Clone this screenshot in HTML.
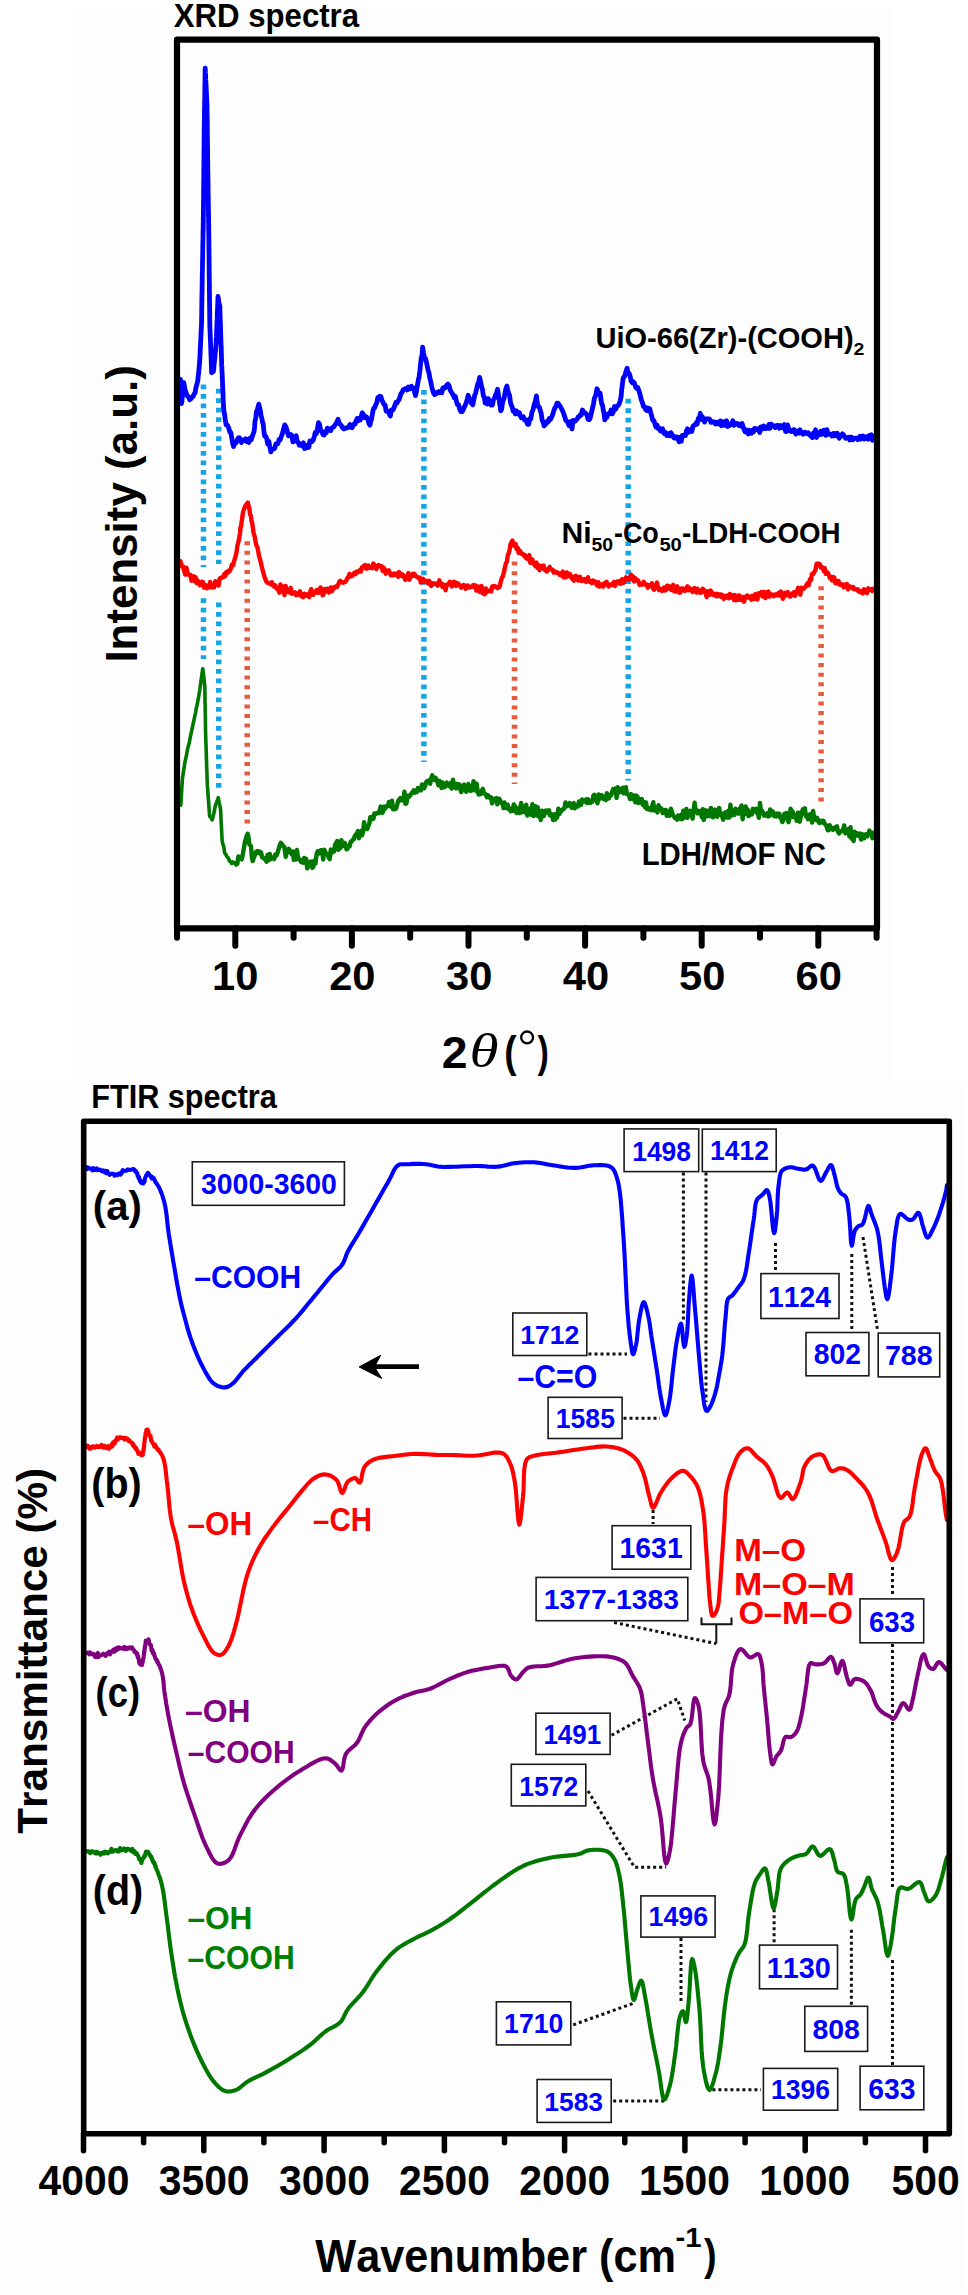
<!DOCTYPE html><html><head><meta charset="utf-8"><style>html,body{margin:0;padding:0;background:#fff;}svg{display:block;}text{font-family:"Liberation Sans", sans-serif;font-kerning:none;font-variant-ligatures:none;}</style></head><body>
<svg width="968" height="2295" viewBox="0 0 968 2295">
<rect x="0" y="0" width="968" height="2295" fill="#fff"/>
<rect x="73" y="9" width="819.5" height="1075" fill="#fdfdfd"/>
<rect x="2" y="1083.5" width="963" height="1209.5" fill="#fdfdfd"/>
<line x1="203.5" y1="384.5" x2="203.5" y2="567.3" stroke="#14a5e2" stroke-width="5.5" stroke-dasharray="4.8 4.7"/>
<line x1="203.5" y1="598.3" x2="203.5" y2="659" stroke="#14a5e2" stroke-width="5.5" stroke-dasharray="4.8 4.7"/>
<line x1="218.7" y1="388.7" x2="218.7" y2="564" stroke="#14a5e2" stroke-width="5.5" stroke-dasharray="4.8 4.7"/>
<line x1="218.7" y1="602.4" x2="218.7" y2="788" stroke="#14a5e2" stroke-width="5.5" stroke-dasharray="4.8 4.7"/>
<line x1="423.9" y1="390" x2="423.9" y2="762" stroke="#14a5e2" stroke-width="5.5" stroke-dasharray="4.8 4.7"/>
<line x1="628.2" y1="398.7" x2="628.2" y2="780.5" stroke="#14a5e2" stroke-width="5.5" stroke-dasharray="4.8 4.7"/>
<line x1="247.2" y1="541.2" x2="247.2" y2="827" stroke="#e85a3c" stroke-width="5.5" stroke-dasharray="4 5.6"/>
<line x1="514.5" y1="561.6" x2="514.5" y2="784" stroke="#e85a3c" stroke-width="5.5" stroke-dasharray="4 5.6"/>
<line x1="821.1" y1="586.3" x2="821.1" y2="805.5" stroke="#e85a3c" stroke-width="5.5" stroke-dasharray="4 5.6"/>
<path d="M180.5 379.3L180.6 383L180.8 386.1L180.9 389.5L181.1 392.6L181.2 396.3L181.4 400.3L181.5 403.6L182 400.5L182.4 396.1L182.9 392.6L183.3 388.7L183.8 382.7L185 389.5L186.1 392.5L187.3 396L188.4 396.6L189.6 399.7L190.7 399L191.8 397.6L192.9 396.7L194 394.2L195.1 392.8L196 387.2L197 384L197.9 379.7L198.3 375.2L198.6 373.5L199 368.9L199.3 365.7L199.7 360.8L199.9 357.1L200.1 353.6L200.2 350.1L200.4 346.8L200.6 342.9L200.8 338.9L201 335L201.1 331.5L201.3 328.8L201.5 324.3L201.6 321.1L201.6 317.7L201.7 313.9L201.7 310.8L201.8 307.6L201.8 303.5L201.9 300.4L201.9 297L202 293.4L202.1 290.3L202.1 286.7L202.2 283L202.2 280.1L202.3 276.6L202.3 273.2L202.4 269.9L202.5 266.3L202.5 262.8L202.6 259L202.7 256L202.7 252.3L202.8 248.9L202.8 245.3L202.9 241.9L203 238.6L203 235.6L203.1 231.4L203.2 228.1L203.2 225.1L203.3 221.9L203.3 218.3L203.4 214.4L203.4 211L203.5 208L203.5 204.4L203.5 201L203.6 197.9L203.6 194.5L203.6 191L203.7 187.6L203.7 184.3L203.7 181L203.8 177.5L203.8 174.1L203.8 170.7L203.9 167L203.9 164L203.9 160.6L204 157.2L204 153.4L204 150.2L204.1 147L204.1 143.3L204.1 140.1L204.2 136.9L204.2 133.2L204.2 130.2L204.3 126.7L204.3 123.2L204.4 119.8L204.4 116.5L204.5 112.9L204.5 109.7L204.6 105.9L204.6 102.5L204.7 99.4L204.8 95.8L204.8 92.1L204.9 89.1L204.9 85.8L205 81.9L205 78.3L205.1 75.1L205.1 71.7L205.2 68.1L205.4 72.7L205.6 75.1L205.7 79.9L205.9 82.3L206.1 86.2L206.3 90.6L206.5 94.5L206.6 98L206.8 101.4L207 104.9L207 108.4L207.1 112L207.1 115.3L207.2 118.9L207.2 122.4L207.3 125.8L207.3 129.4L207.3 132.9L207.4 136.6L207.4 139.8L207.5 143.2L207.5 146.7L207.6 150.2L207.6 153.9L207.6 157.1L207.7 160.7L207.7 164.5L207.8 167.2L207.8 170.9L207.9 174.7L207.9 178.2L208 181.6L208 184.9L208.1 188.5L208.1 191.9L208.2 195.1L208.2 199.2L208.3 202.2L208.4 205.4L208.4 209L208.5 212.4L208.5 215.8L208.6 218.7L208.6 222.6L208.7 226.4L208.7 229.3L208.8 233L208.8 236.5L208.9 239.9L208.9 243.4L208.9 246.3L209 249.9L209 253.3L209.1 256.8L209.1 260.3L209.1 263.1L209.2 267.1L209.2 270.1L209.2 273.8L209.3 276.8L209.3 280.5L209.4 284L209.4 287.2L209.4 290.6L209.5 294.1L209.5 297.4L209.5 300.8L209.6 304.4L209.6 307.7L209.7 310.9L209.7 314.7L209.7 317.5L209.8 321.2L209.8 324.4L209.9 328.1L210.1 331.9L210.2 335.2L210.4 338.9L210.5 341.4L210.6 345L210.8 349.4L210.9 352.3L211 355.8L211.2 359.1L211.3 363.8L211.5 367.1L211.6 372.7L213.4 371.4L213.8 368.4L214.1 363.9L214.4 361.7L214.8 358.7L215.2 353.1L215.5 351.4L215.8 347.3L216.2 342.7L216.3 338.4L216.5 336.4L216.6 332.2L216.8 328.5L216.9 325.4L217 321.9L217.2 318.9L217.3 314.2L217.4 311.7L217.6 308.3L217.7 304.8L217.9 300.5L218 296.3L218.9 302.8L219.8 306.2L219.9 309.7L220 313.6L220.1 316.4L220.2 319L220.4 323.2L220.5 326.1L220.6 330.5L220.7 333.8L220.8 336.8L220.9 340.5L221 344.3L221.2 347.4L221.3 351.3L221.4 354.2L221.5 358.1L221.6 361.8L221.7 365.4L221.9 367.8L222 372.1L222.2 374.3L222.3 378.2L222.5 381.3L222.6 386.3L222.8 388.7L222.9 392.8L223.1 396.2L223.2 399.8L223.4 403.1L223.5 407.1L224 412.3L224.6 414.3L225.1 418.4L225.7 422.5L226.2 424.9L227.4 425.1L228.7 428L229.9 432L230.8 432.4L231.7 437.3L232.6 442.9L233.5 446.5L234.7 443.5L236 442.9L237.2 440.1L238.2 438L239.3 437.6L240.3 439.5L241.4 442.5L242.4 440.2L243.5 439.9L244.5 440.3L245.6 438.9L246.7 441.5L247.8 439.6L248.9 442.4L250 438.3L251.2 439.7L252.5 435.8L253.7 432.5L254.1 431.3L254.6 426.7L255 421.3L255.5 418.9L255.9 416.3L256.4 411.8L257.6 408.8L258.8 404.1L259.6 407.6L260.4 410.9L261.1 415.8L261.9 418.6L262.6 422.5L263.2 423.9L263.9 431.1L264.6 436.2L265.6 436.2L266.7 438.3L267.7 444.1L268.8 441.2L269.8 446.7L270.9 451.9L271.9 449.4L273.3 449.1L274.7 448.3L275.8 444L276.9 444L278 443.5L279.1 439.4L280.2 439.7L281.3 436.5L282.4 433.6L283.6 428.8L284.7 424.9L285.9 426.8L287.2 430.8L288.4 435.8L289.5 435.3L290.6 434.5L291.7 435.3L292.9 441.9L294 440.2L295.1 440.2L296.2 435.7L297.2 441.8L298.3 442.4L299.3 445.3L300.3 444.1L301.4 444.1L302.4 446L303.4 442.8L304.5 448.5L305.5 448.2L306.6 445.5L307.7 447.6L308.8 447.3L309.9 441L311 441.1L312.1 441.5L313.2 440.1L314.3 436.3L315.3 432.4L316.4 433.5L317.4 429L318.5 422.7L319.6 424.3L320.7 430.7L321.9 431.5L323 434.6L324.1 435.1L325.2 431.6L326.3 432.8L327.4 428.1L328.5 429.8L329.6 430.3L330.7 430.6L331.8 428L332.8 427.4L333.9 426.7L334.9 425L335.9 423.9L337 421.7L338 419.3L339.2 423.3L340.4 424.5L341.5 425.6L342.7 428L343.7 428.8L344.8 428.2L345.8 428.3L346.8 427.7L347.9 427.7L348.9 426.8L349.9 424.5L351 427.1L352 427.7L353 425.8L354.1 423.9L355.1 424L356.1 420.8L357.2 418.4L358.2 420.7L359.2 418.2L360.3 420L361.3 416.1L362.3 412.7L363.4 414.4L364.4 417.6L365.5 416.5L366.6 416.9L367.8 419.6L368.9 423.4L370 425.1L370.7 421.3L371.5 419.4L372.2 415.1L373 410.8L373.7 408.3L374.7 407.7L375.8 404.7L376.8 402.7L377.8 397.6L378.9 396.9L379.9 396.1L380.9 396.6L382 400.7L383 402.1L384 404.6L385.1 405L386.1 411.1L387.1 411.3L388.2 411.2L389.2 413.7L390.3 416.1L391.4 410L392.5 410.3L393.6 408.9L394.7 405.9L395.8 402.5L396.9 403.1L397.9 401L399 399.7L400 396.9L401 393.5L402.1 392.3L403.1 389.8L404.1 389.2L405.2 388.9L406.2 388.4L407.2 390L408.3 386.9L409.3 387.7L410.3 388.8L411.4 386.2L412.4 388.2L413.4 388L414.5 391.9L415.5 395.6L416.3 391.8L417.1 387.2L417.8 383.2L418.6 378.3L419 378L419.5 373.4L419.9 370.6L420.4 365.4L420.8 362.7L421.3 357.8L421.7 356.9L422.2 353.7L422.6 347.2L423.6 353.1L424.5 357.6L425.4 358.3L426.4 361.9L427.3 366.3L428.1 370.4L429 373L429.9 378.3L430.8 382L431.6 386L432.5 389.8L433.5 393L434.6 394.6L435.6 392.8L436.6 393.6L437.7 392.2L438.7 391.6L439.7 392.8L440.8 392.4L441.8 392.7L442.8 388.1L443.9 387.4L444.9 388L445.9 386.5L447 385L448 384.1L449 385.4L450.1 389.8L451.1 391.7L452.1 393.3L453.2 394.8L454.2 397.8L455.3 396.4L456.4 401.1L457.5 404.8L458.7 404.8L459.8 409.5L460.9 411.6L462 411.7L463 410.4L464.1 407.5L465.1 405.7L466.1 403.1L467.2 399.4L468.2 395.3L469.4 398.3L470.5 400.4L471.6 403.5L472.8 404.7L473.8 399.7L474.8 395.1L475.8 392.6L476.7 388.4L477.7 384.1L478.7 381.6L479.7 377.4L480.6 382L481.5 386.4L482.4 389.1L483.4 396.2L484.3 396.9L485.2 403.1L486.2 401.9L487.3 404.1L488.3 398.7L489.3 402L490.4 404.2L491.4 405.1L492.4 405L493.5 399.6L494.5 398.3L495.5 395L496.6 392.7L497.6 389.3L498.1 392.3L498.6 396.5L499.1 398.6L499.7 404.4L500.2 405.9L500.7 410.8L501.6 409.5L502.5 403.1L503.4 399.9L504.2 397.7L505.1 392.8L506 388.3L506.9 386L507.8 390L508.7 393.6L509.6 395.4L510.4 402L511.3 405.4L512.2 407L513.1 411L514.1 410.3L515.2 413.9L516.2 410.9L517.2 413.7L518.3 412.3L519.3 412.5L520.3 415.8L521.4 417.8L522.4 416.7L523.4 416.6L524.5 420.1L525.5 419.7L526.5 421.3L527.6 424.3L528.6 424.4L529.7 418.7L530.8 418.8L531.9 412.3L533.1 409.8L534.2 404.3L535.3 401.6L536.4 395.9L537.4 403.8L538.3 406.8L539.3 407L540.2 410.2L541.2 413.5L542.2 420.5L543.1 421.9L544.1 425.9L545.1 424.5L546.2 423.7L547.2 421.2L548.2 421.9L549.3 418.5L550.3 419.7L551.4 417.6L552.5 415.1L553.6 411.5L554.8 407.9L555.9 406.7L557 403.2L558.1 403.4L559.2 404.9L560.3 406.4L561.4 408.5L562.5 410.8L563.6 413.2L564.7 416.7L565.8 420.3L566.8 421.4L567.9 422.3L568.9 425.6L569.9 421.8L571 423.7L572 428.9L573 420.3L574.1 421.3L575.1 421.1L576.1 419.9L577.2 419.1L578.2 416.9L579.2 416.6L580.3 414.9L581.3 414.9L582.4 410L583.5 411.5L584.6 412.8L585.8 413.2L587 415.1L588.1 419.5L589.3 419.7L590.2 417.8L591 414.5L591.9 410.6L592.7 407.4L593.6 403.2L594.4 398.2L595.3 396.4L596.1 393.6L597 388.8L598 391L599.1 393.8L600.1 393.2L600.9 398.8L601.7 404L602.5 405.2L603.2 409.8L604 413.4L604.8 419.9L605.8 417.2L606.9 417.4L607.9 414L608.9 414.3L610 413.6L611 410L612.1 413.9L613.3 411.9L614.5 406.5L615.6 409.3L616.8 406.3L618 405.7L619.1 404L620.3 400.5L620.7 398.2L621.2 396.2L621.6 390.8L622.1 386.8L622.5 383L623 379.6L623.4 377.7L624.6 376.4L625.9 371.6L627.1 368.2L628.1 373.9L629.1 373.4L630.1 376.3L631.1 381.1L632.2 382.7L633.3 381.8L634.4 383.1L635.6 386.9L636.7 388.4L637.8 387.5L638.9 390.8L640 394.3L641.2 399.4L642.4 402.6L643.5 406.5L644.5 406.5L645.6 409.4L646.6 410.5L647.6 408L648.7 410.6L649.7 408.7L650.7 412.6L651.8 416.4L652.8 420.3L653.8 420.5L654.9 423.8L655.9 427L657 425.1L658.1 428.5L659.2 428.2L660.4 430.9L661.5 429.3L662.6 428.8L663.7 433L664.7 433.7L665.8 432.6L666.8 435.5L667.8 433.8L668.9 433.6L669.9 435.8L670.9 432.6L672 434.5L673 436L674 438L675.1 436.8L676.1 438.1L677.1 437L678.2 439.1L679.2 441.8L680.2 437.1L681.3 441.3L682.3 435.5L683.3 435.7L684.4 435.1L685.4 435.6L686.4 431.1L687.5 428.8L688.5 432.4L689.6 431.3L690.7 429.7L691.8 431.5L692.9 426.4L694 425.2L695.1 424.9L696.2 422.7L697.2 424.1L698.3 418.5L699.3 419.1L700.3 413.3L701.4 419.5L702.4 416.8L703.5 419.5L704.6 422L705.6 418.8L706.7 418.8L707.8 418.9L708.9 418.8L710 419.6L711 422.3L712.1 421.7L713.2 422.2L714.2 421.9L715.3 424L716.3 423.4L717.3 422.3L718.4 423.9L719.4 422.6L720.4 420.9L721.5 425.7L722.5 424.1L723.5 421.7L724.6 425.4L725.6 424.2L726.6 420.8L727.7 426.5L728.7 424.2L729.7 425.2L730.8 424L731.8 423.3L732.8 420.8L733.9 425.3L734.9 423.7L735.9 423.1L737 424.2L738 423.7L739 425.6L740.1 424.7L741.1 426.1L742.1 423.6L743.2 427.2L744.2 429.9L745.2 431.9L746.3 429.9L747.3 431.2L748.3 433.9L749.4 430.3L750.4 431.9L751.4 433.3L752.5 430.2L753.5 432L754.5 428.4L755.6 429.7L756.6 428.9L757.6 429L758.7 430.5L759.7 432.5L760.7 427L761.8 427L762.8 428.8L763.8 425.9L764.9 428.5L765.9 428.5L766.9 426.9L768 428.2L769 424.4L770 428.3L771.1 424.1L772.1 425.5L773.1 425.6L774.2 425.7L775.2 427.7L776.2 426.2L777.3 425.2L778.3 426.7L779.3 428.3L780.4 425.4L781.4 425.8L782.4 427.8L783.5 426.7L784.5 424.6L785.5 431.5L786.6 431.5L787.6 424.9L788.6 428.7L789.7 430L790.7 431.5L791.7 431.5L792.8 430.4L793.8 429.6L794.8 432L795.9 434.1L796.9 431L797.9 431.2L799 433.1L800 429.8L801 432.9L802.1 432.7L803.1 434.3L804.1 432.4L805.2 432.2L806.2 433.2L807.2 433.9L808.3 432.9L809.3 434.2L810.3 435.6L811.4 436.5L812.4 437.5L813.4 433L814.5 433.5L815.5 429.8L816.5 437.5L817.6 432.7L818.6 433.8L819.6 434.7L820.7 431.2L821.7 434.4L822.7 433.4L823.8 430.1L824.8 433.7L825.8 435.2L826.9 429.7L827.9 434.3L828.9 433.5L830 434.1L831 434.3L832 436L833.1 433.5L834.1 435.7L835.1 433.6L836.2 435.8L837.2 433.3L838.2 434.8L839.3 438.2L840.3 436.2L841.3 435.3L842.4 433.8L843.4 434.6L844.4 436.6L845.5 438.2L846.5 437.5L847.5 437.9L848.6 437.2L849.6 439.9L850.6 437.1L851.7 437.1L852.7 439.9L853.7 438.7L854.8 438.4L855.8 438.1L856.8 438.5L857.9 439.8L858.9 439.2L860 436.2L861 438.9L862 438.3L863.1 436.1L864.1 439L865.2 437L866.2 436.7L867.3 438.5L868.3 439.2L869.3 435.5L870.4 437.3L871.4 434.8L872.5 440.3L873.5 436" fill="none" stroke="#0000ff" stroke-width="4.8" stroke-linejoin="round" stroke-linecap="round" />
<path d="M180.5 561.3L181.8 566.5L183 566.2L184.3 571.2L185.3 574.6L186.4 567.6L187.4 572.2L188.4 574.8L189.5 574.8L190.5 574.9L191.5 580.7L192.6 578.2L193.6 576.2L194.6 581.3L195.7 577.3L196.7 583.1L197.7 580.6L198.8 582.6L199.8 585.2L200.8 583.8L201.9 581.8L202.9 581.9L203.9 587.6L205 587.5L206 585.3L207 588.2L208.1 587.4L209.1 587.5L210.1 581.9L211.2 585.4L212.2 587.5L213.2 587L214.3 587.1L215.3 581.2L216.4 584.3L217.5 583.5L218.6 585.5L219.7 578.4L220.8 578.1L221.9 577.4L223 577.5L224.1 574.3L225.2 576.2L226.3 572L227.5 572.9L228.6 570.7L229.7 571L230.8 568.8L232 564.4L233.1 565.2L234.2 560.9L235.4 556.8L236.1 554.1L236.7 551.5L237.4 545.6L238.1 543.1L238.8 540.3L239.4 536.8L240.1 532.3L240.6 526.8L241.1 526.7L241.6 522.1L242.2 518.2L242.7 514.3L243.2 511.4L244.3 508.4L245.5 505.5L246.7 504L247.8 502.5L248.6 505.9L249.4 508.8L250.1 514.5L250.9 515.7L251.6 521.5L252.2 523.1L252.9 528.2L253.6 532.9L254.3 535.1L254.9 537.5L255.6 542L256.5 545.8L257.4 547.1L258.4 552.3L259.3 557L260.2 559.9L261.2 564.2L262.3 568.7L263.3 572.4L264.3 576.2L265.4 579.4L266.4 581.7L267.5 582.8L268.6 583L269.7 583.5L270.8 584.4L271.9 582.2L272.9 585.3L274 586.5L275.1 585.4L276.2 587.7L277.3 589.4L278.3 588.4L279.4 592.7L280.4 584.4L281.4 589.1L282.5 586.3L283.5 591.8L284.5 595.1L285.6 585.9L286.6 591L287.6 591.9L288.7 590.7L289.7 592.5L290.7 587.8L291.8 593.8L292.8 593.3L293.8 593.1L294.9 592.3L295.9 595L296.9 593.3L298 595L299 594L300 591.2L301.1 595.7L302.1 596.5L303.1 597.1L304.2 593.7L305.2 594.9L306.2 595.7L307.2 594.4L308.2 596.1L309.3 597L310.3 591.4L311.3 589.2L312.3 593.8L313.4 594.7L314.4 593.2L315.4 592.9L316.5 590.1L317.5 589.9L318.5 592.8L319.6 589.3L320.6 587.5L321.6 588.9L322.7 595.4L323.7 594.2L324.7 589.2L325.8 589L326.8 590.7L327.8 588.8L328.9 592.6L329.9 589.9L330.9 587.5L332 591.3L333 587.4L334 588.3L335.1 587.4L336.1 586.3L337.1 586.9L338.2 584.6L339.2 582L340.2 580.8L341.3 582L342.3 582.4L343.3 582.8L344.4 582L345.4 582L346.4 580.3L347.5 577.8L348.5 577.1L349.5 573.8L350.6 576.2L351.6 576.4L352.6 575.6L353.7 573.6L354.7 572.6L355.7 573.9L356.8 571.6L357.8 572.3L358.8 571.4L359.9 570.1L360.9 571.4L361.9 567.4L363 567.1L364 565.7L365 565.1L366.1 568.6L367.1 568.5L368.1 565.4L369.2 566.5L370.2 567.8L371.2 567.2L372.3 568.1L373.3 563.6L374.3 564.9L375.4 567L376.4 569L377.4 566.6L378.5 565L379.5 566.1L380.5 566L381.6 566.2L382.6 570.9L383.6 567.6L384.7 569.3L385.7 573.7L386.7 572.4L387.8 571.4L388.8 570.3L389.8 572.6L390.9 575.3L391.9 574L392.9 575.5L394 573.6L395 574.6L396 573.6L397.1 575L398.1 576.8L399.1 572.1L400.2 574.9L401.2 575.7L402.2 574.4L403.3 575.2L404.3 577.5L405.3 579.8L406.4 577.2L407.4 576.6L408.4 573.1L409.5 579.7L410.5 576.1L411.5 575.9L412.6 573.9L413.6 575.9L414.6 573.9L415.7 576.1L416.7 576.8L417.7 577.1L418.8 578.5L419.8 577.7L420.8 582.6L421.9 580.1L422.9 578.8L423.9 582L425 581L426 580.7L427 582L428.1 583.4L429.1 580.7L430.1 582.8L431.2 585.9L432.2 584.6L433.2 583.2L434.3 583.8L435.3 583.5L436.3 583.9L437.4 585.6L438.4 584.3L439.4 580.3L440.5 585L441.5 583.6L442.5 586.7L443.6 584.6L444.6 586.3L445.6 590.3L446.7 584.6L447.7 584.7L448.7 583.9L449.8 581.9L450.8 582.6L451.8 586.4L452.9 584.3L453.9 581.8L454.9 582.3L456 585.9L457 583L458 583.5L459.1 584.6L460.1 586.2L461.2 587.6L462.3 586.3L463.4 585L464.5 585.4L465.6 588.7L466.7 588.3L467.8 585.5L468.9 587.2L470 587.2L471.1 587.1L472.1 586.3L473.2 585.1L474.2 586.8L475.3 585.2L476.3 590.6L477.4 589.6L478.4 586.6L479.5 591.7L480.6 591L481.6 586.1L482.7 593.3L483.7 591.7L484.8 594.3L485.8 588.5L486.9 592L488 591.4L489 590.7L490.1 590.2L491.1 591.5L492.2 586.5L493.2 586.6L494.3 585.9L495.4 587.1L496.4 586.7L497.5 588.1L498.5 587.5L499.6 586.7L500.7 581.9L501.7 578.4L502.8 576.4L503.9 572.2L504.9 567.5L506 563.1L506.9 561.7L507.8 555.2L508.7 553.1L509.6 550L510.5 544.4L511.4 542.4L512.4 540.6L513.5 545.5L514.5 545.5L515.6 544L516.6 549.1L517.7 547.9L518.7 553L519.8 550.5L520.8 552.3L521.9 554L522.9 553.9L524 555.8L525 555.3L526.1 558.3L527.2 558.1L528.2 559.3L529.3 555.1L530.3 562.8L531.4 561.7L532.4 559.5L533.5 563.7L534.5 564.7L535.5 566.2L536.5 562.7L537.5 567.9L538.5 565.2L539.6 570.2L540.6 566L541.6 567.9L542.6 566.4L543.6 565.5L544.6 569.9L545.6 569.9L546.6 571.5L547.6 570.7L548.6 568.5L549.7 566.9L550.7 569.1L551.7 569.5L552.7 569.6L553.7 572.6L554.7 572.5L555.7 571.7L556.7 572.8L557.7 572.5L558.7 573.5L559.7 574.8L560.8 575.5L561.8 572.8L562.8 571.6L563.8 577.3L564.8 575.2L565.8 577.3L566.8 572.5L567.8 575.3L568.8 576.2L569.8 573.8L570.9 575.8L571.9 578.4L572.9 579.4L573.9 580.6L574.9 576.4L575.9 575.7L576.9 579.5L577.9 580.4L578.9 579.3L579.9 576.7L580.9 580.8L582 581L583 580.7L584 579L585 580.7L586 581.8L587 579.5L588 577.3L589 581.5L590 582L591 581.3L592.1 583.2L593.1 580.6L594.1 581.7L595.1 581.5L596.1 583.4L597.1 585.5L598.2 582.2L599.2 586.6L600.3 585.8L601.3 584.5L602.4 584.3L603.4 586.6L604.5 583.1L605.5 583.3L606.6 581.7L607.7 584.7L608.7 586.5L609.8 585.1L610.8 585L611.9 584L612.9 584.8L614 582L615 586.1L616 583.1L617 581.5L618 581.8L619 581.2L620 583.9L621 583.9L622 579.2L623 582.9L624 582.5L625 579.5L626 577.4L627 578.4L628 578.3L629 579.7L630 578L631 574.7L632.1 579.2L633.1 576.6L634.2 581.5L635.2 578.2L636.3 579.7L637.3 579.9L638.4 581L639.5 584.8L640.5 584.6L641.6 584.6L642.6 584.6L643.7 581.8L644.7 584.2L645.8 584.7L646.8 584.4L647.9 587.7L648.9 585.4L649.9 585.6L650.9 585L651.9 583.2L652.9 588.3L654 589.8L655 587.7L656 585.7L657 582.5L658 588L659 590.1L660 588.5L661 589.7L662 590.9L663 590.3L664.1 587.5L665.1 590.4L666.1 590L667.1 585.7L668.1 587.9L669.1 586.1L670.1 588.6L671.1 589.9L672.1 586.8L673.2 584.9L674.2 591.3L675.2 589.5L676.2 591.6L677.2 586.3L678.2 590.8L679.3 592.7L680.3 592.6L681.3 588.4L682.3 589.3L683.3 588.5L684.3 590.7L685.4 590.8L686.4 589L687.4 586.2L688.4 590.2L689.4 587.9L690.4 590L691.5 589.3L692.5 591.9L693.5 591L694.5 588L695.5 589.7L696.5 592.6L697.5 588.7L698.5 590.8L699.5 592.5L700.6 592.9L701.6 591.9L702.6 588.8L703.6 589.2L704.6 592.3L705.6 592.9L706.6 597.1L707.6 591.2L708.6 595.2L709.6 594.8L710.7 590.6L711.7 592.5L712.7 594.6L713.7 593.7L714.7 594.6L715.7 596.1L716.7 593.8L717.7 596.2L718.7 594.3L719.8 594.5L720.8 596.6L721.8 594.6L722.8 596.3L723.8 598.9L724.8 596L725.9 595.8L726.9 597.5L727.9 595.5L728.9 598.3L729.9 594L730.9 597.6L732 595.6L733 595.1L734 600L735 595.2L736 600.2L737 598.2L738.1 599.8L739.1 595.3L740.1 599.5L741.1 600L742.1 597L743.1 596.9L744.1 601.7L745.2 597.3L746.2 596.1L747.2 595.6L748.2 597.6L749.2 597.2L750.2 596.9L751.3 599.7L752.3 595.8L753.3 597.2L754.3 599L755.3 594.2L756.3 598L757.4 599.4L758.4 593.3L759.4 593.7L760.4 593.8L761.4 592.1L762.4 596.4L763.5 592L764.5 596.3L765.5 598L766.5 592.1L767.5 594.6L768.5 591.6L769.5 596.7L770.6 593.8L771.6 594.7L772.6 595.3L773.6 596.2L774.6 594.5L775.6 595.2L776.7 594.2L777.7 595.4L778.7 593L779.7 595.3L780.7 591.5L781.7 594.3L782.8 598.8L783.8 595.4L784.8 592.8L785.8 595.7L786.8 593.4L787.8 592.1L788.9 593.8L789.9 596.6L790.9 595.9L791.9 595L793 592.9L794 592.1L795.1 595.8L796.1 593.2L797.2 590.5L798.2 587.8L799.3 588.5L800.4 594.7L801.4 587.7L802.5 589L803.5 588.9L804.6 587.6L805.6 586.8L806.7 584.6L807.8 583L808.8 585.2L809.9 579.4L811 579.9L812 573.9L813.1 574.1L814.3 571.9L815.5 570L816.6 563.9L817.8 563.5L818.8 564.6L819.8 564.2L820.8 567.6L821.8 566.8L822.8 568.4L823.8 571.1L824.8 568.2L825.8 573.8L826.9 572.9L827.9 572.8L829 575.4L830 578.2L831.1 576.8L832.1 580.5L833.2 576.9L834.3 577.4L835.3 583.1L836.4 581.8L837.4 583.5L838.5 581L839.6 584.5L840.6 584L841.7 585.2L842.7 584.6L843.8 587.3L844.9 584.5L845.9 584.4L847 584.1L848 589.3L849.1 586.4L850.1 586.4L851.2 587.1L852.3 588.3L853.3 587.2L854.4 589.3L855.4 589.1L856.5 589.6L857.5 589.2L858.6 591.4L859.7 590.8L860.7 592.2L861.8 592.8L862.8 593.4L863.9 589.2L865 591.7L866 590.7L867.1 593.1L868.2 588.3L869.2 589.4L870.3 589.7L871.4 589.1L872.4 591.1L873.5 588.8" fill="none" stroke="#ff0000" stroke-width="4.4" stroke-linejoin="round" stroke-linecap="round" />
<path d="M180.8 805.2L181 801.8L181.3 797.4L181.5 793.5L181.7 790.5L181.9 786.6L182.2 782.8L182.4 779L183 775L183.7 770.1L184.3 766.9L184.9 762.1L185.7 759L186.6 754.7L187.4 749.8L188.2 746.3L189.1 743.6L189.9 739.1L190.7 735.1L191.5 731.6L192.4 727.4L193.2 723.5L194 720L194.8 716.2L195.5 713.1L196.2 708.6L196.9 705.7L197.7 701.9L198.4 698.1L199.1 694L199.8 689.8L200.3 686.2L200.8 682.5L201.3 678.6L201.8 675.3L202.3 671.5L202.8 668.8L203.2 672L203.6 675.3L204 678.4L204.4 682.7L204.8 686.4L204.9 689.8L204.9 693.4L205 696.8L205 700.7L205.1 704.2L205.2 708L205.2 711.3L205.3 714.8L205.4 718.5L205.4 722L205.5 725.5L205.5 729L205.6 732.5L205.7 736.4L205.8 739.9L205.9 743.5L206.1 746.7L206.2 750.3L206.3 753.7L206.4 757.6L206.5 760.7L206.6 764.6L206.7 768.2L206.9 771.8L207 775L207.1 778.8L207.2 782L207.4 785.4L207.7 788.7L207.9 793L208.2 796.6L208.4 799.4L208.7 802.8L208.9 806.4L209.2 810.7L209.4 813.7L209.7 816.5L210.9 817.3L212.2 819.9L213 817.1L213.8 813.7L214.7 808.9L215.5 804.9L216.9 801.7L218.3 797.7L219.4 804.1L220.5 808.3L220.7 812.3L220.9 815.2L221 818.8L221.2 822.6L221.4 825.9L221.6 829.7L221.7 833L221.9 836.2L222.1 840.3L222.9 844.3L223.8 846.8L224.6 852.8L225.8 854.4L227.1 857L228.3 857.8L229.5 861L230.6 861.8L231.7 863.4L232.8 862L234 863L235.1 862.7L236.2 864.8" fill="none" stroke="#007800" stroke-width="3.6" stroke-linejoin="round" stroke-linecap="round" />
<path d="M236.2 864.2L237.3 863.8L238.4 856.5L239.5 857.4L240.6 858.4L241.7 859.3L242.8 854.6L243.8 848.6L244.8 842.7L245.7 839.3L246.7 835.9L247.7 833.7L248.5 837L249.3 844.3L250.2 845.2L251 846.3L251.8 856.2L252.7 861.1L253.8 857.9L254.9 854.9L256 851.8L257.2 851.1L258.5 853.1L259.8 851.6L261 852.3L262.1 857.3L263.2 857.6L264.3 858.9L265.4 859.2L266.5 861.7L267.6 854.8L268.7 860.3L269.8 854L270.9 859.1L272 857.4L273.1 857.4L274.2 859.1L275.3 854.5L276.4 855.6L277.5 853.1L278.6 849.2L279.7 845.4L280.8 842.8L282 844.3L283.2 846.1L284.5 847.4L285.7 856.8L286.7 851.1L287.7 852.5L288.7 848.8L289.7 850.2L290.7 852.2L291.7 854.4L292.8 851.4L293.8 859.9L294.9 854L295.9 859.5L296.9 850L298 857.6L299 859L300 859.8L301.1 862L302.1 862.1L303.1 862.8L304.1 858L305.1 862.4L306.2 858.8L307.2 868.3L308.2 866.6L309.3 864.3L310.3 861.6L311.4 861.5L312.4 867.8L313.4 866.6L314.5 860.6L315.5 863.4L316.6 853.9L317.7 851.3L318.8 853.6L319.9 850.9L321 850.1L322.1 850.5L323.2 859.6L324.3 849.6L325.4 852.5L326.5 854L327.6 854L328.7 857.6L329.8 859.1L330.8 849.4L331.9 852.6L333 850.4L334.1 851.3L335.1 844.9L336.2 842.9L337.2 841L338.3 849.8L339.3 848.6L340.3 848.1L341.4 840.3L342.4 846.4L343.4 845.1L344.5 842.9L345.5 844.3L346.5 849.3L347.6 848.6L348.6 846.7L349.6 846.4L350.7 841.6L351.7 841.6L352.7 839.7L353.8 839.3L354.8 835.8L355.8 834.6L356.9 833.5L357.9 831.1L358.9 838.2L360 832.3L361 831L362 835.3L363.1 831.7L364.1 822.3L365.1 827.7L366.2 827L367.2 829L368.2 826.3L369.3 823.7L370.3 817.1L371.3 817L372.4 819.2L373.4 818.8L374.4 813.4L375.5 814.2L376.5 813.2L377.5 813.4L378.6 813.2L379.6 810.4L380.6 806.6L381.7 812.7L382.7 812.7L383.7 806.8L384.8 809L385.8 806.4L386.8 806.8L387.9 806L388.9 801.9L389.9 805.7L391 806.8L392 800.7L393 809.3L394.1 809.4L395.1 808.3L396.1 808.6L397.2 804.5L398.2 800.9L399.2 799.4L400.3 798.1L401.3 800.2L402.3 799L403.4 800.4L404.4 791.8L405.4 803.9L406.5 803.1L407.5 795.6L408.5 797.2L409.6 796.1L410.6 795L411.6 793L412.7 792.8L413.7 790.2L414.7 792.7L415.8 791.6L416.8 792.1L417.8 788L418.9 790.2L419.9 789.7L420.9 790.3L422 784.5L423 787.7L424 788.3L425.1 786.1L426.1 782.3L427.1 781L428.2 780.7L429.2 782.4L430.2 783.7L431.3 777.8L432.3 775.4L433.3 779.3L434.4 779.9L435.4 777.7L436.4 779.2L437.5 782.1L438.5 785.3L439.5 781L440.6 782.6L441.6 788.1L442.6 782.5L443.7 786.6L444.7 787.2L445.7 785.6L446.8 782.6L447.8 785.5L448.8 784.5L449.9 786.5L450.9 782.7L451.9 788.6L453 779.8L454 784.4L455 785.2L456.1 788.4L457.1 783.8L458.1 787.6L459.1 784.4L460.1 788.7L461.2 792.1L462.2 785.7L463.2 788.6L464.2 784.6L465.3 790.8L466.3 791.8L467.3 787.9L468.4 784.1L469.4 788.8L470.4 790.9L471.5 790.6L472.5 789.6L473.5 781.1L474.6 784.5L475.6 790.6L476.6 783.8L477.7 791.5L478.7 794.5L479.7 792.1L480.8 794L481.8 790.7L482.8 788.9L483.9 793L484.9 793.6L485.9 794.6L487 797.3L488 795.3L489 796.8L490.1 798.1L491.1 797.3L492.1 803.4L493.2 799.7L494.2 799.1L495.2 798.7L496.3 798L497.3 804.3L498.3 801.6L499.4 798.8L500.4 801.1L501.4 803.1L502.5 803L503.5 808.2L504.5 802.4L505.6 808L506.6 807.8L507.6 804.7L508.7 809.1L509.7 809.4L510.7 811.3L511.8 808.3L512.8 810.7L513.8 804.4L514.9 806.2L515.9 812.2L516.9 813L518 809.7L519 807.8L520 813.2L521.1 803L522.1 807.2L523.1 812L524.2 812.2L525.2 807.3L526.2 804.9L527.3 815.5L528.3 811.7L529.3 808.7L530.4 811.9L531.4 814.8L532.4 804.2L533.5 816L534.5 815.2L535.5 806.1L536.6 815.3L537.6 807.1L538.6 816.4L539.7 814.1L540.7 820L541.7 810.8L542.8 812.8L543.8 816.2L544.8 810.8L545.9 810.5L546.9 811.7L547.9 812.9L549 810.2L550 815.3L551 815.8L552.1 814.7L553.1 820.1L554.1 814.2L555.2 819.6L556.2 814.3L557.2 817.3L558.3 808.7L559.3 814.2L560.3 812.3L561.4 810.6L562.4 809.5L563.4 809.5L564.5 807.6L565.5 802.5L566.5 806.4L567.6 805.8L568.6 805L569.6 803L570.7 805.4L571.7 807.8L572.7 804.2L573.8 803L574.8 808.3L575.8 806.7L576.9 806.1L577.9 806.4L578.9 801.5L580 801.7L581 805L582 799.5L583.1 800.4L584.1 801.6L585.1 801.4L586.2 799.3L587.2 803.1L588.2 799.3L589.3 802L590.3 803L591.3 801.5L592.4 801.6L593.4 795.5L594.4 794.9L595.5 797L596.5 800.3L597.5 803.2L598.6 794.5L599.6 799L600.6 795.1L601.7 795.2L602.7 796.4L603.7 799.1L604.8 797.4L605.8 800.1L606.8 793.2L607.9 798.7L608.9 798.4L610 795L611.1 795.3L612.2 791.4L613.3 789L614.4 790.1L615.5 788.5L616.6 797.9L617.7 787.2L618.8 792.6L619.8 788.9L620.8 789.8L621.8 791.7L622.8 787.7L623.8 793.3L624.9 792.3L625.9 787.2L626.9 794.1L627.9 794.6L628.9 794.8L630 799L631.1 794.1L632.2 797.7L633.2 799.3L634.3 795.4L635.4 802.4L636.5 795.6L637.6 796.9L638.7 803L639.7 799.1L640.8 802.7L641.8 799L642.9 804.9L643.9 802.1L645 807.2L646 802.5L647.1 809.1L648.1 807.8L649.2 809.6L650.2 809.4L651.3 810.2L652.3 805.9L653.3 802.2L654.3 810.5L655.4 807.7L656.4 809.4L657.4 812.4L658.5 805.1L659.5 809.1L660.5 809.8L661.5 808.6L662.6 813.1L663.6 811.9L664.6 810.1L665.7 809.9L666.7 815.7L667.7 811.5L668.8 815.7L669.8 815.6L670.9 808.7L671.9 811.5L672.9 815.1L674 816.5L675 818.2L676 818.5L677.1 819.6L678.1 815.5L679.1 815.8L680.2 818.7L681.2 814.7L682.2 819.2L683.3 810.7L684.3 817.5L685.4 814.7L686.4 808.9L687.4 817.9L688.5 815.6L689.5 814.5L690.5 810.8L691.6 812.6L692.6 818.6L693.6 811.2L694.6 802.7L695.7 811.1L696.7 810L697.7 813.4L698.7 812.5L699.7 810.9L700.7 811.1L701.8 817.2L702.8 809.2L703.8 820.1L704.8 812.1L705.8 810.3L706.8 816.3L707.9 815.6L708.9 810.5L709.9 816.2L710.9 807.9L711.9 810.8L713 817.4L714 813L715 809.6L716 815.4L717.1 816.7L718.1 813.7L719.1 808L720.1 812.7L721.2 815.1L722.2 816.3L723.2 819.7L724.2 813L725.3 812.3L726.3 813.7L727.3 817.6L728.3 810.7L729.3 817.6L730.4 804.7L731.4 815.6L732.4 810.8L733.4 814.2L734.4 814.8L735.4 808.7L736.5 812L737.5 812.8L738.5 813.8L739.5 808.8L740.5 808.5L741.5 805.4L742.6 819.2L743.6 810.5L744.6 810.2L745.6 806.4L746.6 814.2L747.7 809.7L748.7 816.1L749.7 814.4L750.7 812L751.8 814.4L752.8 808.8L753.8 811.4L754.8 810.8L755.9 808.8L756.9 813L757.9 812.7L758.9 817.8L760 802.9L761 811.5L762 810.9L763 812.5L764 815.5L765.1 815.6L766.1 814.6L767.1 813.2L768.1 816.4L769.1 816.1L770.1 809.4L771.2 814.5L772.2 811.2L773.2 812L774.2 816.3L775.2 816.2L776.2 816.5L777.3 813.6L778.3 815.9L779.3 813.8L780.3 817.8L781.3 818.7L782.4 822L783.4 820.4L784.4 813.7L785.4 814.7L786.5 813.1L787.5 817L788.5 822.2L789.5 818.1L790.6 808.8L791.6 811.7L792.6 811.5L793.6 817.1L794.7 815.4L795.7 816.2L796.7 820.8L797.7 812.7L798.7 812.7L799.8 821.7L800.8 816.6L801.8 813.2L802.8 809.3L803.9 811L804.9 808.2L805.9 816.2L806.9 816.2L808 819.3L809 815.8L810 814.2L811 814.1L812.1 822.5L813.1 811L814.1 817.2L815.1 817.6L816.2 820.1L817.2 817.9L818.3 821.3L819.3 823L820.4 821L821.4 820.8L822.5 822.4L823.5 820.9L824.6 823.9L825.6 824.4L826.6 826.3L827.7 830.1L828.7 830.3L829.7 825.2L830.8 828.7L831.8 828.1L832.9 829.9L833.9 827.9L834.9 828.9L836 827L837 826.3L838 831.8L839.1 833.4L840.1 831.7L841.1 831.4L842.2 831.1L843.2 829.2L844.2 825.4L845.3 833.3L846.3 832.2L847.4 830.1L848.4 829.2L849.4 836.4L850.5 827.2L851.5 838.5L852.5 835.4L853.6 841L854.6 831.8L855.7 834.3L856.8 833.2L857.8 835.6L858.9 834.8L860 833.5L861.1 839.5L862.1 834.1L863.2 835.4L864.2 838.2L865.3 834.4L866.3 834.3L867.3 836.3L868.4 833.6L869.4 830.5L870.4 833.6L871.4 832.8L872.5 838.2L873.5 832.6" fill="none" stroke="#007800" stroke-width="4.4" stroke-linejoin="round" stroke-linecap="round" />
<rect x="177" y="39.7" width="700" height="888.5999999999999" fill="none" stroke="#000" stroke-width="6.2" stroke-linejoin="round"/>
<line x1="177" y1="928.3" x2="177" y2="937.8" stroke="#000" stroke-width="6" stroke-linecap="round"/>
<line x1="235.3" y1="928.3" x2="235.3" y2="945.8" stroke="#000" stroke-width="6" stroke-linecap="round"/>
<line x1="293.6" y1="928.3" x2="293.6" y2="937.8" stroke="#000" stroke-width="6" stroke-linecap="round"/>
<line x1="351.9" y1="928.3" x2="351.9" y2="945.8" stroke="#000" stroke-width="6" stroke-linecap="round"/>
<line x1="410.2" y1="928.3" x2="410.2" y2="937.8" stroke="#000" stroke-width="6" stroke-linecap="round"/>
<line x1="468.5" y1="928.3" x2="468.5" y2="945.8" stroke="#000" stroke-width="6" stroke-linecap="round"/>
<line x1="526.8" y1="928.3" x2="526.8" y2="937.8" stroke="#000" stroke-width="6" stroke-linecap="round"/>
<line x1="585.1" y1="928.3" x2="585.1" y2="945.8" stroke="#000" stroke-width="6" stroke-linecap="round"/>
<line x1="643.4" y1="928.3" x2="643.4" y2="937.8" stroke="#000" stroke-width="6" stroke-linecap="round"/>
<line x1="701.7" y1="928.3" x2="701.7" y2="945.8" stroke="#000" stroke-width="6" stroke-linecap="round"/>
<line x1="760" y1="928.3" x2="760" y2="937.8" stroke="#000" stroke-width="6" stroke-linecap="round"/>
<line x1="818.3" y1="928.3" x2="818.3" y2="945.8" stroke="#000" stroke-width="6" stroke-linecap="round"/>
<line x1="876.6" y1="928.3" x2="876.6" y2="937.8" stroke="#000" stroke-width="6" stroke-linecap="round"/>
<text x="212" y="990.1" font-size="40.96" fill="#000" font-weight="bold" textLength="46.33" lengthAdjust="spacingAndGlyphs">10</text>
<text x="329.2" y="990.1" font-size="40.96" fill="#000" font-weight="bold" textLength="46.33" lengthAdjust="spacingAndGlyphs">20</text>
<text x="446" y="990.1" font-size="40.96" fill="#000" font-weight="bold" textLength="46.33" lengthAdjust="spacingAndGlyphs">30</text>
<text x="562.8" y="990.1" font-size="40.96" fill="#000" font-weight="bold" textLength="46.33" lengthAdjust="spacingAndGlyphs">40</text>
<text x="679" y="990.1" font-size="40.96" fill="#000" font-weight="bold" textLength="46.33" lengthAdjust="spacingAndGlyphs">50</text>
<text x="795.5" y="990.1" font-size="40.96" fill="#000" font-weight="bold" textLength="46.33" lengthAdjust="spacingAndGlyphs">60</text>
<text x="173.8" y="26.6" font-size="33.29" fill="#000" font-weight="bold" textLength="185.28" lengthAdjust="spacingAndGlyphs">XRD spectra</text>
<text x="595.5" y="348.2" font-size="28.63" fill="#000" font-weight="bold" textLength="258.09" lengthAdjust="spacingAndGlyphs">UiO-66(Zr)-(COOH)</text>
<text x="853.6" y="355.2" font-size="17.37" fill="#000" font-weight="bold" textLength="10.86" lengthAdjust="spacingAndGlyphs">2</text>
<text x="561.5" y="543.2" font-size="29.36" fill="#000" font-weight="bold" textLength="30.15" lengthAdjust="spacingAndGlyphs">Ni</text>
<text x="591.4" y="551" font-size="18.50" fill="#000" font-weight="bold" textLength="21.59" lengthAdjust="spacingAndGlyphs">50</text>
<text x="614" y="543.2" font-size="29.36" fill="#000" font-weight="bold" textLength="44.80" lengthAdjust="spacingAndGlyphs">-Co</text>
<text x="659.4" y="551" font-size="18.50" fill="#000" font-weight="bold" textLength="22.45" lengthAdjust="spacingAndGlyphs">50</text>
<text x="682" y="543.2" font-size="29.36" fill="#000" font-weight="bold" textLength="158.55" lengthAdjust="spacingAndGlyphs">-LDH-COOH</text>
<text x="641.7" y="864.7" font-size="30.96" fill="#000" font-weight="bold" textLength="184.27" lengthAdjust="spacingAndGlyphs">LDH/MOF NC</text>
<text x="441.8" y="1067.9" font-size="44.40" fill="#000" font-weight="bold" textLength="25.76" lengthAdjust="spacingAndGlyphs">2</text>
<text x="469.4" y="1067.4" font-size="48.10" fill="#000" style="font-family:'Liberation Serif';font-style:italic;font-weight:normal" textLength="29.08" lengthAdjust="spacingAndGlyphs">&#952;</text>
<text x="504.3" y="1066.7" font-size="45.17" fill="#000" font-weight="bold" textLength="12.39" lengthAdjust="spacingAndGlyphs">(</text>
<text x="537.5" y="1066.7" font-size="45.17" fill="#000" font-weight="bold" textLength="11.33" lengthAdjust="spacingAndGlyphs">)</text>
<circle cx="527.1" cy="1037.4" r="5.9" fill="none" stroke="#000" stroke-width="2.3"/>
<text transform="translate(137,0) rotate(-90)" x="-662.6" y="0" font-size="43.61" font-weight="bold" fill="#000" textLength="297.42" lengthAdjust="spacingAndGlyphs">Intensity (a.u.)</text>
<text x="91.2" y="1107.6" font-size="32.41" fill="#000" font-weight="bold" textLength="185.66" lengthAdjust="spacingAndGlyphs">FTIR spectra</text>
<path d="M683.4 1172.5L683.4 1320" fill="none" stroke="#111" stroke-width="3" stroke-dasharray="3 3"/>
<path d="M706 1172.5L706 1402" fill="none" stroke="#111" stroke-width="3" stroke-dasharray="3 3"/>
<path d="M588.5 1353.9L627 1353.9" fill="none" stroke="#111" stroke-width="3" stroke-dasharray="3 3"/>
<path d="M623.5 1418.2L660 1418.2" fill="none" stroke="#111" stroke-width="3" stroke-dasharray="3 3"/>
<path d="M775.5 1243L775.5 1272" fill="none" stroke="#111" stroke-width="3" stroke-dasharray="3 3"/>
<path d="M851.8 1254L851.8 1330" fill="none" stroke="#111" stroke-width="3" stroke-dasharray="3 3"/>
<path d="M863 1237L877.5 1330" fill="none" stroke="#111" stroke-width="3" stroke-dasharray="3 3"/>
<path d="M653.1 1510L653.1 1524" fill="none" stroke="#111" stroke-width="3" stroke-dasharray="3 3"/>
<path d="M614.1 1622.5L716.3 1643.6" fill="none" stroke="#111" stroke-width="3" stroke-dasharray="3 3"/>
<path d="M892.5 1567L892.5 1597" fill="none" stroke="#111" stroke-width="3" stroke-dasharray="3 3"/>
<path d="M892.5 1644L892.5 1890" fill="none" stroke="#111" stroke-width="3" stroke-dasharray="3 3"/>
<path d="M892.5 1960L892.5 2065" fill="none" stroke="#111" stroke-width="3" stroke-dasharray="3 3"/>
<path d="M611.5 1735.3L677.3 1698.8L684.7 1720.4" fill="none" stroke="#111" stroke-width="3" stroke-dasharray="3 3"/>
<path d="M588 1791L634.5 1867.3L666.1 1867.3" fill="none" stroke="#111" stroke-width="3" stroke-dasharray="3 3"/>
<path d="M681 1938L681 2004" fill="none" stroke="#111" stroke-width="3" stroke-dasharray="3 3"/>
<path d="M573.2 2024.8L632.7 2003.6" fill="none" stroke="#111" stroke-width="3" stroke-dasharray="3 3"/>
<path d="M613.2 2100.9L664.4 2100.9" fill="none" stroke="#111" stroke-width="3" stroke-dasharray="3 3"/>
<path d="M712.4 2089.7L761 2089.7" fill="none" stroke="#111" stroke-width="3" stroke-dasharray="3 3"/>
<path d="M774.1 1909.3L774.1 1944" fill="none" stroke="#111" stroke-width="3" stroke-dasharray="3 3"/>
<path d="M851.4 1929.8L851.4 2005" fill="none" stroke="#111" stroke-width="3" stroke-dasharray="3 3"/>
<path d="M86.4 1167.1L87.3 1169.1L88.1 1167.6L89 1168.1L89.8 1168.2L90.7 1168.8L91.5 1169.4L92.4 1170.3L93.3 1168.2L94.1 1170.1L95 1169.9L95.8 1169.8L96.7 1168.5L97.5 1170.1L98.4 1169.4L99.2 1169.9L100 1169.5L100.9 1170.5L101.7 1171.1L102.5 1171.4L103.3 1170.4L104.1 1171.8L104.9 1172.6L105.7 1170.8L106.6 1173.3L107.4 1171.2L108.2 1173.2L109 1173.7L109.7 1174.8L110.5 1174.1L111.3 1173.7L112.4 1173.8L113.6 1173.8L114.6 1175.7L115.7 1174.9L116.5 1174.3L117.4 1175.2L118.2 1173.7L119 1173.6L119.7 1173.1L120.5 1174.6L121.2 1173.9L122 1171.9L122.7 1170.2L123.5 1171.4L124.2 1170.9L125 1170.8L126.5 1170.6L128 1169.3L129.5 1170L131 1169.8L132.5 1169.3L133.8 1169.1L134.6 1169.9L135.4 1171.7L135.9 1171L136.4 1172.7L136.9 1173L137.3 1173.2L137.6 1175.8L138 1176L138.3 1176.8L138.7 1178.3L139 1176.9L139.3 1179L139.7 1180L140.1 1181.3L140.5 1180.3L140.9 1182.7L142.2 1183.1L143.2 1183.5L143.6 1182.6L144.1 1181.3L144.5 1181.7L144.9 1178.8L145.4 1177.4L145.8 1176.5L146.3 1175.1L146.7 1175.2L147.8 1172.8L149.3 1174.8L150.1 1175.9L150.9 1177L151.5 1176.4L152.1 1178.6L152.7 1177.4L153.2 1178.6L153.8 1178.2L154.4 1179.7L154.9 1180.5L155.5 1182.5L156 1182.8L156.5 1182.9L157 1184.2L157.5 1184.9L158 1185.6L158.5 1186.5L159 1187.4L160.3 1190.2L161.5 1193.1L162.6 1196.3L163.6 1199.6L164.5 1203L165.5 1207.6L166.2 1212.5L166.9 1217.7L167.4 1223L168 1228.3L168.7 1233.6L169.6 1239.1L170.5 1244.7L171.4 1250.4L172.4 1256L173.3 1261.6L174.3 1267.1L175.2 1272.4L176.1 1277.8L177 1283.1L178 1288.3L178.9 1293.2L179.8 1297.8L180.5 1300.9L181.1 1303.8L181.8 1306.5L182.5 1309.2L183.2 1312L184 1315L185.1 1319L186.2 1323.3L187.4 1327.7L188.7 1332.1L190.1 1336.6L191.6 1340.9L193.2 1345.3L195 1349.9L196.8 1354.3L198.7 1358.7L200.7 1363L202.7 1366.9L204.4 1370.1L206.2 1373.4L208 1376.4L209.8 1379.3L211.8 1381.7L213.9 1383.7L215.6 1384.9L217.5 1385.8L219.5 1386.6L221.4 1387.1L223.3 1387.4L225 1387.4L226.3 1387.2L227.6 1386.8L228.8 1386.2L230 1385.5L231.3 1384.6L232.5 1383.7L234.3 1382.1L236.1 1380.1L237.9 1377.8L239.7 1375.4L241.6 1373L243.6 1370.7L245.9 1368.3L248.3 1365.8L250.8 1363.4L253.3 1360.9L255.9 1358.4L258.5 1355.8L261.5 1352.8L264.5 1349.8L267.7 1346.6L270.8 1343.5L274 1340.3L277.1 1337.2L280.2 1334.1L283.3 1331.1L286.5 1328.1L289.6 1325L292.7 1321.8L295.7 1318.6L298.9 1315L302 1311.4L305.1 1307.6L308.1 1303.8L311.2 1300.1L314.3 1296.3L317.5 1292.5L320.7 1288.5L324 1284.5L327.1 1280.6L330.1 1277L332.9 1273.9L334.6 1272.1L336.3 1270.6L338 1269.2L339.5 1267.8L340.9 1266.3L342.2 1264.6L343.3 1262.7L344.3 1260.6L345.1 1258.4L345.9 1256.2L346.7 1253.9L347.8 1251.6L349.4 1248.7L351.1 1245.7L353 1242.7L354.9 1239.5L356.9 1236.3L358.9 1233L361.3 1228.9L363.7 1224.7L366.2 1220.3L368.8 1215.8L371.3 1211.4L373.8 1207L376.3 1202.6L378.9 1198.1L381.5 1193.5L384 1189.1L386.4 1184.9L388.7 1180.9L390.3 1177.9L391.8 1174.8L393.2 1171.8L394.7 1169.1L396.2 1166.9L398 1165.3L399.4 1164.6L400.8 1164.3L402.3 1164.2L403.9 1164.2L405.5 1164.2L407.3 1164.2L410.1 1164.1L413.1 1163.9L416.4 1163.9L419.7 1163.9L422.9 1164L425.9 1164.2L428.4 1164.5L430.8 1165L433.1 1165.5L435.4 1166L437.7 1166.5L440 1166.8L442 1166.9L444 1167L445.9 1167L447.9 1166.9L450 1166.9L452.3 1166.8L456.1 1166.7L460.4 1166.5L465 1166.3L469.6 1166.2L474.1 1166L478.3 1166L481.6 1166.1L484.7 1166.3L487.8 1166.6L490.8 1166.8L493.8 1166.9L496.9 1166.8L500 1166.4L503.1 1165.8L506.2 1165.1L509.3 1164.3L512.4 1163.6L515.5 1163.1L518.6 1162.8L521.7 1162.5L524.8 1162.3L527.9 1162.2L531 1162.2L534.1 1162.3L537.2 1162.6L540.2 1163L543.3 1163.6L546.4 1164.2L549.5 1164.8L552.7 1165.3L556.3 1165.8L560.1 1166.4L563.8 1167L567.6 1167.5L571.4 1167.8L575 1167.9L578.2 1167.7L581.4 1167.3L584.5 1166.7L587.6 1166.1L590.6 1165.6L593.6 1165.3L596.3 1165.2L599 1165.1L601.7 1165.1L604.3 1165.3L606.6 1165.5L608.5 1166L609.5 1166.4L610.3 1166.8L611.1 1167.2L611.7 1167.7L612.4 1168.3L613 1169L613.7 1170L614.4 1171.1L615 1172.3L615.5 1173.7L616 1175.1L616.5 1176.5L617.1 1178.5L617.7 1180.6L618.2 1182.8L618.7 1185.1L619.1 1187.5L619.5 1190L619.9 1192.9L620.3 1195.9L620.6 1199L620.9 1202.3L621.2 1205.8L621.5 1209.6L622.1 1216.6L622.6 1224.5L623.2 1233L623.8 1241.8L624.3 1250.7L624.8 1259.2L625.2 1267.6L625.6 1276.1L626 1284.6L626.4 1293L626.8 1301.1L627.3 1308.8L627.8 1314.9L628.3 1320.9L628.8 1326.7L629.4 1332.2L630 1337.3L630.6 1341.8L631 1344.5L631.4 1347.3L631.8 1349.9L632.2 1352.1L632.6 1353.6L633.1 1354.2L633.6 1353.8L634 1352.7L634.5 1351.1L635.1 1349.1L635.5 1347L636 1345L636.7 1341.3L637.2 1336.8L637.7 1331.9L638.2 1327L638.8 1322.2L639.5 1318L640.1 1314.7L640.8 1311.2L641.5 1307.8L642.3 1304.9L643 1302.9L643.8 1302.1L644.5 1302.7L645.2 1304.3L645.9 1306.6L646.7 1309.4L647.4 1312.3L648 1315L648.8 1318.6L649.5 1322.6L650.1 1326.8L650.7 1331.2L651.3 1335.6L652 1340L652.8 1344.9L653.6 1349.8L654.4 1354.9L655.2 1360L656 1365L656.8 1370L657.5 1374.8L658.2 1379.7L658.8 1384.5L659.5 1389.2L660.2 1393.7L661 1398L661.7 1401.6L662.4 1405.4L663.1 1409.1L663.8 1412.3L664.6 1414.6L665.3 1415.4L666 1414.7L666.7 1412.8L667.5 1410L668.2 1406.7L668.9 1403.2L669.5 1400L670.2 1395.6L670.8 1390.8L671.4 1385.6L671.9 1380.4L672.4 1375.1L673 1370L673.6 1364.9L674.2 1359.7L674.9 1354.4L675.5 1349.3L676.2 1344.5L677 1340L677.6 1336.6L678.3 1332.9L679 1329.4L679.7 1326.4L680.4 1324.4L681 1323.6L681.6 1325.3L682.2 1329.6L682.7 1335.2L683.2 1340.8L683.8 1345.1L684.3 1346.8L684.7 1346.3L685.2 1344.9L685.6 1342.9L686 1340.4L686.4 1337.8L686.8 1335.2L687.3 1330.4L687.7 1324.6L688 1318.4L688.3 1312L688.6 1305.7L689 1300L689.4 1295.1L689.8 1289.8L690.3 1284.5L690.8 1280L691.2 1276.9L691.7 1275.7L692.2 1277.3L692.8 1281.6L693.3 1287.7L693.9 1294.8L694.4 1302.1L695 1308.8L695.7 1316.6L696.4 1324.9L697.1 1333.5L697.8 1342.2L698.5 1350.5L699.2 1358.3L699.7 1364.3L700.2 1370.2L700.7 1375.8L701.2 1381.3L701.8 1386.5L702.5 1391.4L703.1 1395.4L703.6 1399.7L704.2 1403.8L704.9 1407.4L705.7 1409.9L706.6 1411L707.2 1410.9L707.8 1410.3L708.5 1409.4L709.2 1408.3L709.9 1407.2L710.5 1406L711.5 1404.1L712.4 1401.8L713.3 1399.3L714.2 1396.7L715 1394L715.7 1391.4L716.4 1388.8L717 1386.1L717.5 1383.4L718 1380.6L718.5 1377.8L719 1375L719.6 1371.9L720.2 1368.7L720.7 1365.5L721.3 1362.2L721.8 1358.7L722.3 1355L722.9 1349.2L723.5 1342.7L724 1335.9L724.5 1329.1L725 1322.7L725.6 1317L725.9 1313.4L726.2 1309.9L726.4 1306.5L726.8 1303.5L727.3 1300.8L728.1 1298.8L728.7 1298L729.3 1297.4L730 1297L730.7 1296.6L731.5 1296.1L732.2 1295.5L733.2 1294.5L734.1 1293.3L735.1 1292L736.1 1290.7L737 1289.3L738 1288L739 1286.6L740 1285.3L741.1 1283.9L742 1282.5L743 1280.9L743.8 1279L744.9 1275.5L745.9 1271.4L746.7 1266.9L747.4 1262.2L748.1 1257.4L748.8 1252.6L749.7 1247.2L750.5 1241.5L751.3 1235.8L752.1 1230L752.9 1224.6L753.7 1219.5L754.2 1215.7L754.6 1212L754.9 1208.4L755.4 1205.1L756 1202.1L757 1199.7L757.8 1198.5L758.7 1197.6L759.7 1196.8L760.8 1196L761.8 1195.3L762.7 1194.5L763.5 1193.6L764.2 1192.6L764.9 1191.6L765.6 1190.7L766.2 1190.2L766.8 1190L767.4 1190.4L767.9 1191.1L768.3 1192.3L768.7 1193.6L769.1 1195.2L769.5 1196.8L770.4 1202L771.2 1209.5L772 1217.7L772.7 1225.4L773.4 1231L774.1 1233.2L774.6 1232.3L775.1 1230L775.5 1226.7L776 1222.7L776.4 1218.7L776.8 1215L777.2 1210.4L777.4 1205.3L777.6 1200.1L777.8 1194.8L778.1 1189.9L778.6 1185.5L779 1182.6L779.3 1179.7L779.7 1177L780.2 1174.6L780.9 1172.4L782 1170.7L783.1 1169.7L784.3 1168.9L785.7 1168.3L787.2 1167.8L788.6 1167.5L790 1167.3L791.1 1167.3L792.3 1167.4L793.4 1167.6L794.5 1167.9L795.6 1168.2L796.8 1168.4L798.3 1168.7L799.8 1169L801.4 1169.3L803 1169.6L804.5 1169.6L805.9 1169.5L807.1 1169L808.3 1168.1L809.5 1167.1L810.6 1166.2L811.7 1165.6L812.7 1165.5L814.2 1166.9L815.6 1169.9L816.9 1173.5L818.2 1177.1L819.4 1179.8L820.7 1180.9L821.7 1180.4L822.7 1179.2L823.6 1177.4L824.6 1175.4L825.5 1173.5L826.4 1171.8L827.2 1170.4L828 1168.9L828.8 1167.4L829.5 1166.2L830.2 1165.3L830.9 1165L831.6 1165.5L832.2 1166.7L832.7 1168.3L833.3 1170.3L833.8 1172.3L834.3 1174.1L834.9 1176.3L835.4 1178.7L835.9 1181.1L836.5 1183.5L837 1185.8L837.7 1187.7L838.2 1188.8L838.7 1189.9L839.2 1190.9L839.8 1191.8L840.4 1192.6L841.1 1193.4L841.8 1194L842.6 1194.5L843.4 1194.9L844.3 1195.4L845 1196L845.7 1196.8L846.6 1198.9L847.3 1201.5L847.9 1204.6L848.3 1208L848.7 1211.5L849.1 1215L849.6 1220.4L850.1 1226.9L850.5 1233.7L850.8 1239.7L851.3 1244L851.8 1245.7L852.2 1244.9L852.6 1242.6L853 1239.6L853.5 1236.3L854.1 1233.2L854.8 1230.9L855.3 1229.9L855.8 1229.1L856.3 1228.3L856.9 1227.6L857.5 1227L858.2 1226.4L858.9 1226L859.6 1225.7L860.4 1225.4L861.2 1225.2L862 1224.7L862.7 1224.1L863.9 1221.7L864.9 1218L865.9 1213.9L866.7 1210L867.6 1207.1L868.4 1205.9L869 1206.3L869.5 1207.5L870.1 1209.1L870.6 1211.1L871.2 1213.1L871.8 1215L872.7 1217.3L873.7 1219.7L874.7 1222.3L875.7 1224.9L876.7 1227.8L877.5 1230.9L878.5 1235.8L879.3 1241.3L880 1247.1L880.6 1253.1L881.3 1259.2L882 1265L882.8 1271.5L883.7 1278.9L884.6 1286.3L885.6 1292.8L886.4 1297.4L887.3 1299.1L888 1298L888.6 1295.2L889.3 1291.1L889.9 1286.2L890.5 1281.2L891.1 1276.4L891.9 1269.5L892.6 1261.6L893.3 1253.2L894 1245L894.8 1237.4L895.7 1230.9L896.3 1227.2L896.8 1223.6L897.4 1220.1L898.1 1217.2L899 1215L900.2 1213.9L901.3 1214L902.6 1214.9L904.1 1216.1L905.5 1217.5L906.9 1218.8L908.2 1219.5L909 1219.7L909.8 1219.9L910.5 1219.9L911.3 1219.9L912 1219.8L912.7 1219.5L913.7 1218.6L914.7 1217.3L915.7 1215.6L916.7 1214.1L917.6 1213L918.4 1212.7L919.3 1213.5L920.1 1215.5L920.9 1218.1L921.6 1221L922.2 1223.9L923 1226.4L923.7 1228.6L924.4 1231.1L925.1 1233.5L925.9 1235.6L926.7 1237.1L927.5 1237.7L928.4 1237.3L929.3 1236.2L930.3 1234.5L931.3 1232.5L932.3 1230.5L933.2 1228.6L934.2 1226.6L935.2 1224.4L936.1 1222.2L937.1 1219.9L938 1217.5L938.9 1215L940.1 1211.4L941.4 1207.4L942.7 1203.3L943.9 1199.2L944.9 1195.4L945.7 1192.3L946 1190.9L946.3 1189.6L946.5 1188.4L946.6 1187.3L946.8 1186.2L947 1185" fill="none" stroke="#0000ff" stroke-width="4.1" stroke-linejoin="round" stroke-linecap="round" />
<path d="M86.7 1447L87.7 1445.6L88.7 1447.3L89.7 1448.7L90.7 1448.7L91.7 1446.8L92.7 1446.2L93.7 1446.7L94.7 1447.7L95.6 1447.1L96.6 1446L97.6 1446.9L98.6 1446.3L99.6 1447.1L100.5 1446.1L101.5 1445L102.4 1446.8L103.4 1447.6L104.3 1445.7L105.2 1446.9L106.2 1448L107.1 1446.6L108 1446.2L108.9 1448.9L109.8 1447.4L110.8 1447L111.7 1444.3L112.4 1446.5L113 1442.4L113.6 1443L114.2 1443.6L114.8 1443.6L115.4 1440.5L116 1440.1L116.6 1440.4L117.2 1437.4L118.1 1439.4L119 1438.5L120 1437.1L120.9 1437.8L121.8 1438.1L122.7 1437.6L123.7 1438.1L124.7 1439.5L125.6 1437.8L126.6 1439L127.6 1438.8L128.5 1441.1L129.5 1440.3L130.4 1441.9L131.2 1442.2L132.1 1442.9L132.7 1445.3L133.3 1444.1L133.9 1446.4L134.3 1446.5L134.8 1447.7L135.2 1446.8L135.6 1448.7L136 1449.2L136.4 1448.5L136.8 1450.2L137.2 1450.5L137.7 1451.5L138.3 1453.8L138.8 1452.6L139.5 1452.5L140.1 1453.4L141.4 1455.3L141.8 1454.4L142.3 1454.4L142.7 1454.3L142.9 1454.8L143 1452.5L143.2 1451.9L143.3 1449.8L143.5 1450.4L143.7 1450.5L143.8 1449.6L143.9 1445.2L144 1447.4L144.1 1447.3L144.2 1445.6L144.3 1442.3L144.4 1442.7L144.5 1442.8L144.6 1441.7L144.7 1439.6L144.8 1438.6L144.9 1439.8L145 1436.5L145.1 1438.5L145.3 1436.1L145.4 1435.5L145.6 1432.8L145.8 1432.7L145.9 1433.1L146.4 1429.9L146.9 1432.7L147.7 1429.6L148.2 1430.6L148.6 1432.8L148.9 1434.1L149.2 1435.2L149.5 1434.8L149.8 1435.9L150.1 1436.8L150.4 1437.3L150.7 1436.1L151.1 1440.7L151.4 1440.9L151.8 1441.5L152.1 1441.4L152.5 1443.1L153.1 1443.6L153.7 1444.4L154.3 1446.4L155 1444.5L155.6 1447.1L156.3 1446.8L157 1448.2L157.7 1450L158.3 1449.3L158.9 1450.6L159.5 1451.2L160 1452.4L160.8 1453.1L161.4 1454.3L162.1 1455.5L162.6 1456.7L163.2 1458L163.7 1459.5L164.5 1462.8L165.2 1466.8L165.8 1471.3L166.3 1476L166.8 1480.8L167.4 1485.5L168 1490.9L168.5 1496.6L169.1 1502.4L169.6 1508.2L170.3 1513.8L171.1 1519L171.9 1522.9L172.8 1526.5L173.8 1530L174.8 1533.5L175.7 1537.2L176.7 1541.3L177.9 1547.5L179.1 1554.4L180.3 1561.6L181.5 1568.8L182.7 1575.8L184.1 1582.2L185.2 1586.9L186.4 1591.4L187.6 1595.7L188.8 1599.9L190.1 1604.1L191.6 1608.3L193.2 1612.7L195 1617.2L196.8 1621.7L198.7 1626L200.7 1630.3L202.7 1634.3L204.5 1637.9L206.3 1641.5L208.1 1645.1L210 1648.3L211.9 1651L213.9 1652.9L215.1 1653.7L216.4 1654.3L217.6 1654.7L218.9 1655L220.1 1655L221.3 1654.7L222.7 1654L224 1652.8L225.3 1651.2L226.5 1649.4L227.7 1647.4L228.8 1645.4L230.2 1642.4L231.5 1639.1L232.7 1635.5L233.9 1631.6L235 1627.5L236.2 1623.1L238 1616L239.7 1607.8L241.5 1599.1L243.3 1590.4L245.2 1582.2L247.3 1574.8L249 1569.9L250.7 1565.4L252.5 1561L254.4 1556.9L256.4 1552.9L258.5 1548.8L260.7 1544.9L263.1 1541L265.6 1537.2L268.2 1533.6L270.8 1529.9L273.4 1526.4L275.8 1523.2L278.3 1520L280.8 1516.9L283.3 1513.9L285.8 1510.9L288.3 1507.8L290.8 1504.7L293.3 1501.4L295.8 1498.2L298.3 1495.1L300.7 1492.1L303.1 1489.3L305 1487.1L306.8 1485L308.6 1483L310.5 1481.2L312.3 1479.5L314.3 1478.1L316.1 1477.1L317.9 1476.1L319.8 1475.3L321.7 1474.8L323.5 1474.4L325.4 1474.4L327.3 1474.7L329.4 1475.3L331.4 1476.2L333.3 1477.3L335.1 1478.6L336.6 1480L337.9 1482L338.9 1484.7L339.8 1487.7L340.5 1490.3L341.3 1492.2L342.2 1493L343.1 1492.4L343.9 1490.7L344.7 1488.4L345.6 1485.8L346.6 1483.5L347.8 1481.8L348.9 1480.8L350.2 1479.9L351.5 1479.1L352.8 1478.5L354.1 1478.1L355.2 1478.1L356.1 1478.6L356.9 1479.5L357.6 1480.6L358.4 1481.6L359 1482.4L359.7 1482.6L360.6 1481.5L361.3 1479.2L361.9 1476L362.5 1472.6L363.4 1469.4L364.5 1466.9L365.7 1465.3L367 1463.9L368.5 1462.6L370.1 1461.5L371.9 1460.4L373.8 1459.5L376.9 1458.4L380.5 1457.6L384.4 1457.1L388.4 1456.6L392.4 1456.2L396.1 1455.8L399.3 1455.4L402.3 1455L405.3 1454.6L408.3 1454.3L411.5 1454L414.7 1453.9L418.8 1453.9L423.2 1454.1L427.7 1454.3L432.1 1454.6L436.3 1454.9L440 1455L442.3 1455L444.3 1455L446.2 1455L448.1 1455L450.1 1455L452.3 1455L455.6 1455.1L459.2 1455.3L462.9 1455.5L466.7 1455.7L470.7 1455.8L474.6 1455.8L479.3 1455.3L484.4 1454.4L489.6 1453.4L494.6 1452.6L499 1452.5L502.5 1453.2L504.3 1454.3L505.8 1455.7L507 1457.3L508.1 1459.2L509 1461.2L510 1463.2L511.1 1465.8L512 1468.6L512.8 1471.6L513.5 1474.8L514.1 1478.2L514.8 1481.8L515.7 1488.9L516.5 1497.9L517.2 1507.4L517.9 1516L518.6 1522.2L519.3 1524.6L519.9 1523.2L520.5 1519.6L521.2 1514.4L521.8 1508.4L522.4 1502.2L523 1496.7L523.5 1490.4L523.7 1483.2L523.9 1475.9L524.3 1469.1L525.1 1463.5L526.7 1459.5L527.7 1458.4L528.7 1457.6L529.8 1457L531.1 1456.6L532.5 1456.2L534.1 1455.8L537.5 1455L541.6 1454.3L546.1 1453.7L550.9 1453.2L555.7 1452.7L560.2 1452.1L564.6 1451.5L569 1450.8L573.4 1450.1L577.8 1449.4L582 1448.8L586.2 1448.3L589.8 1447.8L593.3 1447.4L596.7 1446.9L600 1446.6L603.4 1446.4L606.6 1446.5L609.5 1446.8L612.5 1447.1L615.3 1447.7L618.1 1448.3L620.8 1449.2L623.4 1450.2L625.8 1451.4L628.2 1452.7L630.5 1454.2L632.6 1455.8L634.6 1457.6L636.4 1459.5L638 1461.6L639.4 1463.9L640.6 1466.4L641.7 1469L642.8 1471.6L643.8 1474.4L644.9 1477.9L645.9 1481.7L646.8 1485.7L647.7 1489.7L648.5 1493.4L649.4 1496.7L650 1499L650.6 1501.5L651.1 1503.8L651.7 1505.8L652.3 1507.2L653.1 1507.8L654.1 1507.1L655.2 1505.1L656.5 1502.3L657.8 1499L659.1 1495.8L660.6 1493L662.2 1490.4L664 1487.7L665.8 1485.1L667.7 1482.5L669.7 1480.2L671.7 1478.1L673.5 1476.4L675.4 1474.7L677.4 1473.1L679.3 1471.9L681.2 1471L682.9 1470.7L684.2 1471L685.5 1471.6L686.8 1472.6L688 1473.7L689.1 1475L690.3 1476.2L691.7 1477.7L693 1479.4L694.3 1481.1L695.6 1483.1L696.7 1485.1L697.8 1487.4L699.1 1490.8L700.1 1494.5L701.1 1498.6L701.9 1502.8L702.6 1507.2L703.3 1511.6L704 1516.9L704.5 1522.5L704.9 1528.3L705.3 1534.1L705.6 1539.9L706 1545.7L706.4 1551.5L706.8 1557.4L707.2 1563.3L707.6 1569.1L707.9 1574.7L708.3 1580L708.6 1584L708.8 1587.9L709.1 1591.6L709.3 1595.2L709.6 1598.7L710 1602L710.3 1604.8L710.7 1607.8L711 1610.8L711.4 1613.3L711.9 1615.2L712.6 1616L713 1616L713.5 1615.6L714 1615.1L714.6 1614.4L715.1 1613.7L715.5 1613L716 1612.1L716.5 1611L716.9 1609.9L717.3 1608.6L717.7 1607.3L718 1606L718.4 1604.1L718.7 1602.2L718.9 1600.1L719.1 1597.9L719.3 1595.5L719.5 1593L719.8 1589L720.2 1584.6L720.5 1579.9L720.8 1575L721.2 1570L721.5 1565L721.9 1559L722.3 1552.8L722.8 1546.4L723.2 1539.9L723.7 1533.5L724.1 1527L724.5 1520.3L724.8 1513.3L725.1 1506.4L725.4 1499.6L726 1493.1L726.9 1487.2L727.8 1483.1L728.8 1479.3L729.9 1475.7L731.1 1472.2L732.3 1468.9L733.6 1465.7L734.6 1463.1L735.6 1460.6L736.6 1458.1L737.7 1455.9L739 1453.9L740.3 1452.2L741.4 1451.1L742.7 1450.1L743.9 1449.2L745.2 1448.6L746.5 1448.2L747.8 1448.2L749.2 1448.8L750.7 1449.9L752.1 1451.4L753.5 1453.1L754.9 1454.8L756.4 1456.3L758 1457.6L759.6 1458.9L761.2 1460.1L762.9 1461.4L764.4 1462.8L765.8 1464.3L767.1 1466.1L768.3 1467.9L769.4 1469.9L770.4 1471.9L771.4 1474.1L772.5 1476.4L773.8 1480L775.1 1484.5L776.4 1489.1L777.7 1493.3L779.1 1496.4L780.6 1497.9L781.7 1497.7L782.8 1496.7L783.9 1495.3L785.1 1493.9L786.2 1492.9L787.3 1492.5L788.3 1493.1L789.2 1494.4L790.1 1496L791 1497.6L791.8 1498.8L792.7 1499.2L794.1 1498.2L795.5 1495.8L796.9 1492.5L798.3 1488.8L799.6 1485.1L800.7 1481.8L801.5 1479L802.1 1476.2L802.6 1473.4L803.1 1470.6L803.8 1468.1L804.8 1465.7L805.9 1463.8L807.1 1462L808.4 1460.2L809.8 1458.7L811.3 1457.3L812.8 1456.3L814.3 1455.6L815.9 1455L817.5 1454.5L819.2 1454.3L820.7 1454.4L822.2 1454.9L824 1456.6L825.5 1459.6L827 1463.1L828.4 1466.6L829.9 1469.5L831.6 1471L832.9 1471.1L834.2 1470.7L835.6 1470.1L837 1469.3L838.4 1468.6L839.7 1468.3L840.8 1468.3L842 1468.4L843.1 1468.5L844.2 1468.8L845.3 1469.2L846.4 1469.7L847.9 1470.6L849.5 1471.7L851.1 1473L852.6 1474.5L854.2 1476.1L855.8 1477.7L857.8 1479.8L859.9 1482L862.1 1484.4L864.1 1486.9L866.1 1489.6L867.9 1492.5L869.8 1496.5L871.5 1500.9L873 1505.5L874.4 1510.3L875.8 1515L877.3 1519.4L878.7 1523.1L880 1526.8L881.4 1530.4L882.7 1533.9L884 1537.4L885.3 1540.9L886.5 1544.6L887.6 1548.8L888.6 1552.9L889.7 1556.5L890.8 1559.1L892 1560.2L892.9 1559.9L893.8 1558.9L894.7 1557.4L895.7 1555.6L896.6 1553.6L897.4 1551.6L898.6 1547.5L899.7 1542.2L900.6 1536.4L901.6 1530.8L902.7 1525.8L904.1 1522.1L904.9 1520.9L905.9 1520.1L906.8 1519.4L907.8 1518.7L908.7 1517.9L909.5 1516.7L910.8 1513.2L911.8 1508.8L912.6 1503.6L913.3 1498.1L914 1492.5L914.9 1487.2L915.9 1481.6L917 1475.6L918.1 1469.6L919.2 1463.9L920.4 1458.9L921.6 1454.9L922.2 1453.3L922.9 1451.7L923.6 1450.3L924.3 1449.2L925 1448.4L925.6 1448.2L926.3 1448.7L927 1449.9L927.7 1451.7L928.3 1453.7L929 1455.7L929.7 1457.6L930.5 1459.7L931.4 1462L932.2 1464.4L933.1 1466.7L934 1469L935 1471L935.9 1472.4L936.8 1473.6L937.8 1474.8L938.7 1476L939.6 1477.4L940.4 1479.1L941.7 1483.8L942.8 1489.9L943.7 1496.8L944.5 1503.6L945.2 1509.6L945.8 1514L946 1515.3L946.2 1516.4L946.4 1517.3L946.6 1518.2L946.8 1519.1L947 1520" fill="none" stroke="#ff0000" stroke-width="4.1" stroke-linejoin="round" stroke-linecap="round" />
<path d="M86.7 1653.2L87.6 1652.5L88.4 1652.7L89.3 1654.4L90.1 1652.5L91 1653.3L91.9 1654L92.7 1654.5L93.6 1653.8L94.4 1655.6L95.3 1657.1L96.2 1654.5L97 1657L97.9 1652.9L98.8 1656.8L99.6 1655L100.5 1655.5L101.4 1655L102.3 1654.6L103.3 1653.7L104.3 1654.4L105.4 1655.9L106.2 1655.4L106.9 1653.5L107.7 1653L108.5 1652.5L109.3 1651.6L110.1 1654.3L110.9 1652.7L111.7 1651.7L112.5 1650.7L113.3 1649.7L114.1 1651.8L114.9 1650.8L115.6 1648.6L116.4 1650.4L117.2 1647.8L118 1649.3L118.9 1647.4L119.9 1647.7L120.9 1648.4L122.1 1648.2L123.2 1648.8L124.4 1646.8L125.6 1649.3L126.7 1649.1L127.9 1647.7L129 1648.4L130.1 1647.3L131.1 1648.3L132.1 1647.4L133 1649.4L133.9 1650L134.5 1651.9L135 1652.2L135.6 1652.7L136 1652.2L136.3 1653.1L136.7 1653.8L137.1 1655.1L137.4 1653.7L137.7 1657.4L138 1655.8L138.3 1657.8L138.6 1659.1L138.8 1659.3L139.1 1662.4L139.4 1661.4L139.7 1663.9L140.1 1664.3L140.4 1663.3L141.4 1665L142 1665L142.5 1662.4L142.7 1661.9L142.9 1660.4L143 1660.1L143.2 1658.8L143.4 1658.4L143.5 1658.5L143.6 1658.1L143.7 1656L143.8 1655.2L143.9 1655.1L144 1653.1L144.2 1651.4L144.3 1652.9L144.4 1649.9L144.5 1651.1L144.6 1648.3L144.7 1650.4L144.8 1646.5L144.9 1647.7L145.1 1647.5L145.3 1644L145.4 1645.7L145.6 1642.4L145.8 1640.5L146.3 1642.2L146.9 1641.2L148 1640.9L148.6 1639.5L149.2 1643L149.6 1643.7L150.1 1644.6L150.5 1645.6L150.8 1644.8L151.2 1646.9L151.5 1650.2L151.8 1650.8L152.2 1649.6L152.5 1650L152.8 1652L153.1 1653.5L153.6 1654.1L154 1653.1L154.4 1655.5L154.8 1656.3L155.3 1658.4L155.7 1659L156.2 1659.3L156.6 1660.7L157.1 1660.4L157.5 1662.5L158 1662.3L158.4 1663.6L158.8 1664.7L159.3 1665L159.7 1666L160.1 1666.7L160.4 1668.2L160.8 1669.1L161.2 1670.1L161.5 1671.1L161.8 1672L162.6 1675.6L163.2 1679.2L163.6 1682.9L163.9 1686.7L164.3 1690.5L164.8 1694.4L165.5 1698.6L166.1 1702.8L166.9 1707.1L167.6 1711.4L168.4 1715.9L169.3 1720.4L170.4 1725.8L171.6 1731.3L172.8 1737L174.1 1742.7L175.4 1748.4L176.7 1753.9L177.9 1758.9L179 1763.9L180.2 1768.8L181.4 1773.7L182.7 1778.6L184.1 1783.6L185.8 1789.1L187.6 1794.7L189.5 1800.4L191.4 1806L193.4 1811.6L195.3 1817.1L197.1 1822.3L198.8 1827.5L200.6 1832.7L202.4 1837.7L204.4 1842.4L206.4 1846.8L208.1 1850.2L209.8 1853.8L211.6 1857.1L213.5 1860L215.5 1862.3L217.6 1863.6L219.4 1863.9L221.3 1863.8L223.2 1863.3L225.2 1862.4L227.1 1861.3L228.8 1859.9L231 1857.2L232.9 1853.5L234.6 1849.2L236.2 1844.6L238 1840L239.9 1835.7L242.1 1831.3L244.4 1826.9L246.7 1822.5L249.2 1818.1L251.9 1813.8L254.8 1809.7L258.1 1805.7L261.6 1801.8L265.3 1798L269.1 1794.3L273.1 1790.8L277.1 1787.3L281.2 1783.9L285.5 1780.6L289.9 1777.4L294.3 1774.3L298.8 1771.4L303.1 1768.8L307 1766.5L310.9 1764.1L314.9 1761.9L318.7 1760L322.3 1758.7L325.4 1758.3L327.2 1758.5L328.9 1759.1L330.5 1760L331.9 1761L333.3 1762.1L334.7 1763.2L336 1764.5L337.2 1766.1L338.4 1767.8L339.5 1769.3L340.5 1770.3L341.4 1770.6L342.3 1769.5L343 1767.1L343.5 1763.8L344 1760.2L344.8 1756.7L345.9 1753.9L347.4 1751.8L349.3 1749.9L351.3 1748.2L353.4 1746.5L355.4 1744.7L357.1 1742.7L358.5 1740.4L359.7 1737.9L360.8 1735.4L361.9 1732.8L363.1 1730.3L364.5 1727.8L366.3 1725.2L368.3 1722.7L370.4 1720.1L372.7 1717.7L375 1715.3L377.5 1713L380.3 1710.6L383.3 1708.3L386.4 1706L389.6 1703.8L392.9 1701.8L396.1 1700L399.2 1698.4L402.3 1697L405.4 1695.7L408.6 1694.6L411.7 1693.5L414.7 1692.5L417.3 1691.8L419.9 1691.2L422.4 1690.7L424.9 1690.2L427.4 1689.6L430 1688.8L433 1687.5L436.1 1686L439.2 1684.4L442.3 1682.7L445.5 1681L448.6 1679.5L451.7 1678.1L454.7 1676.8L457.7 1675.5L460.8 1674.3L464 1673.1L467.2 1672.1L470.8 1671.1L474.6 1670.2L478.4 1669.4L482.2 1668.7L485.9 1668.1L489.5 1667.6L492.5 1667.1L495.7 1666.5L498.7 1666L501.6 1665.7L504.1 1665.8L506.2 1666.5L507.4 1667.6L508.3 1669.1L509 1670.9L509.6 1672.7L510.3 1674.4L511.1 1675.8L511.9 1676.7L512.7 1677.6L513.6 1678.4L514.5 1679L515.4 1679.4L516.3 1679.5L517.4 1679L518.5 1677.9L519.6 1676.5L520.8 1674.9L521.9 1673.4L523 1672.1L523.9 1671.2L524.7 1670.4L525.5 1669.6L526.3 1668.9L527.3 1668.2L528.5 1667.6L531.1 1666.9L534.3 1666.5L537.8 1666.3L541.6 1666.2L545.4 1665.9L549 1665.4L552.7 1664.5L556.4 1663.4L560.1 1662.2L563.8 1661L567.6 1659.9L571.3 1659L575 1658.3L578.8 1657.7L582.6 1657.2L586.3 1656.9L590 1656.6L593.6 1656.4L596.8 1656.3L600.1 1656.2L603.2 1656.2L606.4 1656.4L609.3 1656.7L612.2 1657.2L614.6 1657.8L617 1658.5L619.2 1659.3L621.4 1660.3L623.4 1661.4L625.2 1662.8L626.8 1664.5L628.1 1666.6L629.3 1668.8L630.4 1671.2L631.5 1673.5L632.7 1675.8L634 1677.9L635.3 1680L636.6 1682L637.9 1684.2L639.1 1686.4L640.1 1688.8L641 1691.8L641.8 1695.1L642.3 1698.5L642.8 1702L643.3 1705.6L643.8 1709.3L644.5 1713.9L645.1 1718.6L645.7 1723.5L646.3 1728.5L646.9 1733.7L647.6 1739L648.4 1745.5L649.3 1752.2L650.1 1759.2L651 1766.2L652 1773.1L653.1 1779.9L654.3 1786.2L655.5 1792.3L656.9 1798.3L658.2 1804.4L659.5 1810.7L660.6 1817.1L661.7 1825.6L662.6 1835.6L663.4 1845.8L664.2 1854.7L665.1 1861.1L666.1 1863.6L666.7 1863.1L667.3 1861.6L668 1859.4L668.7 1856.6L669.3 1853.6L669.9 1850.6L671 1843.6L671.9 1834.8L672.8 1825L673.7 1814.7L674.5 1804.4L675.4 1794.8L676.2 1785.6L677 1776.1L677.8 1766.6L678.7 1757.6L679.7 1749.5L681 1742.7L681.8 1739.5L682.7 1736.6L683.6 1734L684.6 1731.6L685.6 1729.5L686.6 1727.8L687.2 1727L687.8 1726.5L688.5 1726L689.1 1725.6L689.7 1725L690.3 1724.1L691.3 1720.6L692.1 1715.4L692.7 1709.5L693.3 1703.9L694 1699.8L694.8 1698.1L695.4 1698.3L696 1699.1L696.7 1700.3L697.3 1701.9L697.9 1703.6L698.5 1705.5L699.6 1712.1L700.4 1721.3L701 1732L701.5 1743L702.2 1753.2L703.3 1761.3L704.1 1764.9L705.1 1768L706.1 1770.7L707.1 1773.5L708 1776.4L708.9 1779.9L710 1787.2L711.1 1796.6L712 1806.5L712.8 1815.5L713.7 1822L714.5 1824.5L715.2 1823.4L715.8 1820.3L716.4 1815.7L717 1810.3L717.6 1804.3L718.2 1798.5L719.1 1785.9L719.8 1769.9L720.4 1752.5L721.2 1735.4L722.3 1720.4L723.8 1709.3L724.7 1706.1L725.6 1703.5L726.6 1701.4L727.6 1699.3L728.6 1697.1L729.4 1694.4L730.2 1689.9L730.7 1684.9L731.1 1679.5L731.5 1674.2L732.1 1669.1L733.1 1664.6L734.1 1661.3L735.1 1657.9L736.3 1654.7L737.6 1652L739 1650L740.5 1649L741.9 1649.4L743.5 1650.8L745.2 1652.8L746.8 1654.9L748.5 1656.7L750.2 1657.5L751.6 1657.3L753 1656.6L754.5 1655.7L755.9 1654.7L757.1 1654.1L758.2 1654.1L759.1 1654.8L759.8 1656L760.3 1657.5L760.8 1659.3L761.2 1661.2L761.6 1663.2L762.2 1666.6L762.6 1670.4L763 1674.7L763.2 1679.1L763.5 1683.7L763.9 1688.2L764.4 1693.6L765 1699.3L765.6 1705.1L766.2 1710.9L766.8 1716.7L767.3 1722.3L767.8 1727.5L768.2 1732.8L768.6 1738L769 1743L769.5 1747.6L770 1751.8L770.4 1754.5L770.7 1757.3L771.1 1759.9L771.5 1762.1L771.9 1763.7L772.5 1764.3L773 1763.9L773.6 1762.8L774.3 1761.3L775 1759.5L775.7 1757.8L776.4 1756.4L777.1 1755.4L777.9 1754.5L778.7 1753.7L779.4 1752.8L780.2 1751.8L780.9 1750.7L781.7 1748.6L782.4 1746L783 1743.2L783.6 1740.6L784.4 1738.4L785.5 1737L786.3 1736.7L787.2 1736.7L788.2 1736.9L789.2 1737.1L790.2 1737.2L791.1 1737L792.1 1736.5L793.2 1735.8L794.1 1734.9L795.1 1733.8L796 1732.7L796.8 1731.4L797.8 1729.3L798.7 1727L799.4 1724.3L800.1 1721.5L800.7 1718.5L801.4 1715.5L802.2 1711.4L803 1706.9L803.7 1702.2L804.4 1697.5L805.2 1692.8L805.9 1688.2L806.6 1683.5L807.1 1678.4L807.7 1673.2L808.3 1668.6L809.2 1665.1L810.5 1663.2L811.1 1663L811.8 1663.1L812.6 1663.4L813.3 1663.8L814.1 1664.1L815 1664.3L816.4 1664.4L817.9 1664.4L819.5 1664.3L821.1 1664.1L822.7 1663.7L824.1 1663.2L825.4 1662.3L826.7 1660.9L827.8 1659.4L829 1658.1L830 1657.1L830.9 1656.8L831.6 1657.2L832.2 1658L832.8 1659.2L833.3 1660.5L833.8 1661.9L834.3 1663.2L834.9 1665L835.3 1667.1L835.8 1669.4L836.2 1671.4L836.7 1672.8L837.3 1673.4L838 1672.5L838.9 1670.2L839.7 1667.1L840.6 1664.1L841.5 1661.8L842.3 1660.9L843.1 1661.8L843.9 1664.1L844.6 1667.2L845.3 1670.8L846.1 1674.1L846.8 1676.8L847.3 1678.5L847.9 1680.2L848.4 1681.9L848.9 1683.3L849.5 1684.4L850.2 1684.8L850.8 1684.5L851.5 1683.6L852.2 1682.3L853 1680.9L853.8 1679.8L854.8 1679.1L856.1 1678.9L857.6 1679L859.3 1679.3L860.9 1679.9L862.5 1680.6L863.9 1681.4L865.2 1682.5L866.5 1683.8L867.6 1685.3L868.7 1687L869.7 1688.7L870.7 1690.5L871.8 1692.8L872.7 1695.3L873.6 1698L874.4 1700.6L875.4 1703.1L876.4 1705.2L877.2 1706.6L878.1 1707.8L879 1709L879.9 1710L880.9 1711L882 1712L883.2 1712.9L884.6 1713.8L886.1 1714.5L887.5 1715.3L888.8 1715.9L890 1716.6L890.7 1717.1L891.3 1717.6L891.8 1718.2L892.3 1718.6L892.9 1718.9L893.4 1718.9L894.2 1718.5L895 1717.5L895.7 1716.3L896.5 1714.8L897.2 1713.4L898 1712L898.8 1710.4L899.7 1708.5L900.5 1706.5L901.4 1704.8L902.3 1703.5L903.2 1703L904.2 1703.5L905.3 1704.8L906.4 1706.5L907.4 1708.1L908.4 1709.4L909.3 1709.8L910.1 1709.2L910.7 1707.9L911.2 1706.1L911.7 1703.9L912.2 1701.7L912.7 1699.5L913.5 1696.2L914.2 1692.6L914.9 1688.7L915.7 1684.7L916.4 1680.7L917.3 1676.8L918.2 1672.5L919.3 1667.6L920.3 1662.6L921.4 1658.3L922.5 1655.3L923.6 1654.1L924.4 1654.8L925.1 1656.8L925.9 1659.4L926.7 1662.3L927.6 1664.8L928.6 1666.6L929.3 1667.3L930.1 1667.9L930.8 1668.4L931.6 1668.8L932.4 1668.9L933.2 1668.9L934.2 1668.3L935.1 1666.9L936 1665.3L937 1663.7L937.9 1662.5L938.9 1662L940 1662.4L941.3 1663.5L942.6 1664.9L943.8 1666.5L944.9 1667.9L945.7 1668.9L946 1669.1L946.2 1669.3L946.4 1669.5L946.6 1669.7L946.8 1669.8L947 1670" fill="none" stroke="#800080" stroke-width="4.1" stroke-linejoin="round" stroke-linecap="round" />
<path d="M86.7 1851.2L87.6 1851.4L88.4 1851.2L89.3 1852.2L90.2 1853.2L91 1851.4L91.9 1851.2L92.8 1851.6L93.7 1852.3L94.5 1852.9L95.4 1851.8L96.3 1853.5L97.1 1851.8L98 1853.5L98.9 1853.3L99.7 1853.4L100.6 1854.8L101.4 1852.8L102.3 1852.9L103.1 1853.3L104 1853.6L104.8 1851.6L105.6 1852.9L106.4 1851.8L107.3 1852.9L108.1 1853.3L108.9 1852L109.7 1851.7L110.5 1851.7L111.4 1848.8L112.2 1851.8L113 1851.5L113.8 1851L114.7 1850.4L115.5 1850L116.4 1850.3L117.2 1851.4L118.1 1850.2L119.1 1851.4L120 1848L121 1849.7L122 1850.3L123 1850L124 1848.5L125 1849.3L126 1851L127 1848.8L128 1849.1L128.9 1849L129.8 1849.6L130.7 1850.8L131.6 1850.9L132.4 1848.9L133.1 1852.2L133.9 1850.7L134.7 1851.3L135.5 1854L136.2 1853.4L136.9 1853.4L137.3 1854.6L137.7 1855.2L138.1 1855.7L138.7 1857.3L139.2 1859.3L139.8 1859.6L140.3 1858.8L141.4 1862.9L142.4 1859L142.8 1859.1L143.3 1858.2L143.7 1857.8L144.2 1855.9L144.6 1855.5L145.1 1855.9L145.5 1853.4L146 1851.6L146.9 1852.2L148.1 1851.8L148.7 1852.9L149.4 1854.2L149.8 1855.1L150.2 1855.3L150.7 1857L151.1 1857L151.5 1856.9L152 1859.7L152.4 1859.5L152.8 1861.7L153.2 1861.2L153.6 1862.9L154 1863.6L154.4 1862.6L154.7 1864.1L155.1 1865.1L155.4 1867.2L155.8 1866.4L156.1 1868.4L156.5 1869.2L156.8 1869.8L157.1 1870.6L157.5 1871.1L157.8 1872.1L158.1 1873L158.4 1873.8L158.7 1874.7L159 1875.5L159.3 1876.3L159.7 1877.2L160.8 1880.9L161.8 1884.6L162.8 1889.2L163.6 1893.9L164.3 1898.9L165 1904L165.6 1909.2L166.3 1914.4L167.1 1920.4L167.9 1926.5L168.6 1932.7L169.4 1939.1L170.2 1945.4L171.1 1951.6L172 1957.8L173 1964.1L174 1970.4L175 1976.6L176.2 1982.7L177.4 1988.8L178.6 1994.5L179.9 2000.1L181.3 2005.7L182.7 2011.2L184.3 2016.7L186 2022.2L187.9 2027.9L189.9 2033.6L192 2039.3L194.3 2044.9L196.6 2050.4L199 2055.7L201.3 2060.5L203.7 2065.2L206.2 2069.9L208.7 2074.3L211.3 2078.3L213.9 2081.7L215.7 2083.8L217.5 2085.7L219.3 2087.5L221.2 2089L223 2090.2L225 2091L226.8 2091.4L228.7 2091.5L230.6 2091.4L232.5 2091L234.4 2090.5L236.2 2089.9L238.1 2089L239.9 2087.7L241.6 2086.2L243.4 2084.7L245.3 2083.1L247.3 2081.7L250.1 2080.1L253 2078.6L256.2 2077.1L259.4 2075.6L262.7 2074.1L265.9 2072.4L269.5 2070.4L273.3 2068.3L277 2066.2L280.8 2064L284.6 2061.7L288.3 2059.4L292.1 2057L296 2054.6L299.8 2052.1L303.6 2049.6L307.2 2047L310.6 2044.5L313.3 2042.3L315.8 2040.1L318.2 2037.8L320.5 2035.6L322.9 2033.5L325.4 2031.5L327.9 2029.8L330.6 2028.4L333.2 2027L335.8 2025.6L338.2 2024L340.3 2022.2L341.9 2020.3L343.1 2018.2L344.2 2016L345.2 2013.7L346.4 2011.5L347.8 2009.2L349.9 2006.5L352.3 2003.8L354.9 2001.1L357.5 1998.4L360.1 1995.5L362.6 1992.5L365.1 1989L367.5 1985.3L369.9 1981.5L372.3 1977.6L374.8 1973.8L377.5 1970.2L380.4 1966.6L383.3 1962.9L386.4 1959.3L389.6 1955.8L392.8 1952.6L396.1 1949.7L399.1 1947.4L402.2 1945.4L405.4 1943.5L408.5 1941.8L411.7 1940.1L414.7 1938.5L417.3 1937.2L419.8 1935.9L422.3 1934.8L424.9 1933.6L427.4 1932.4L430 1931.1L433 1929.5L436.1 1927.7L439.2 1925.9L442.3 1924.1L445.4 1922.1L448.6 1920L452.2 1917.5L455.9 1914.8L459.6 1912L463.3 1909.1L467.1 1906.2L470.9 1903.2L475.1 1899.9L479.4 1896.4L483.7 1892.9L488.1 1889.5L492.5 1886L496.9 1882.8L501.2 1879.7L505.5 1876.7L509.8 1873.7L514.1 1870.9L518.5 1868.3L523 1866L527.2 1864.2L531.5 1862.6L535.8 1861.2L540.1 1860L544.5 1858.9L549 1857.9L554 1857L559.4 1856.4L564.8 1855.9L570.1 1855.4L574.8 1854.9L578.8 1854.1L580.6 1853.5L582.2 1852.8L583.6 1852.1L584.9 1851.4L586.4 1850.8L588.1 1850.4L590.9 1850L594.1 1849.8L597.5 1849.7L600.9 1849.9L604 1850.4L606.6 1851.2L608.2 1852L609.6 1853L610.9 1854.2L612 1855.5L613.1 1857L614.1 1858.6L615.4 1861.1L616.4 1863.9L617.4 1867L618.2 1870.3L619 1873.7L619.7 1877.2L620.5 1881.7L621.2 1886.4L621.8 1891.3L622.3 1896.4L622.9 1901.6L623.4 1906.9L624.1 1913.4L624.7 1920.1L625.3 1927.1L625.9 1934.1L626.5 1941L627.1 1947.8L627.7 1954.3L628.3 1961L628.9 1967.6L629.5 1973.9L630.1 1979.8L630.8 1985L631.3 1988.2L631.7 1991.6L632.2 1994.7L632.7 1997.4L633.2 1999.2L633.8 1999.9L634.4 1999.3L634.9 1997.8L635.6 1995.6L636.2 1993.2L636.8 1990.8L637.5 1988.8L638.1 1987.2L638.7 1985.3L639.4 1983.5L640 1982L640.6 1981L641.2 1980.6L641.9 1981.4L642.6 1983.3L643.2 1986.1L643.8 1989.4L644.4 1992.9L645 1996.2L646 2001.5L647 2007.4L648 2013.8L649.1 2020.4L650.2 2027L651.3 2033.4L652.5 2039.7L653.7 2046L655 2052.3L656.3 2058.5L657.5 2064.7L658.7 2070.6L659.7 2076.3L660.5 2082.6L661.4 2088.9L662.3 2094.3L663.2 2098.1L664.3 2099.6L665.2 2099L666.1 2097.3L667.1 2094.7L668.1 2091.7L669 2088.5L669.9 2085.4L671 2080.7L672 2075.4L672.9 2069.7L673.8 2063.8L674.6 2057.8L675.4 2052L676.2 2045.8L676.8 2039.1L677.5 2032.4L678.2 2026.1L678.9 2020.7L679.9 2016.6L680.4 2015.2L680.9 2013.9L681.4 2012.8L681.9 2011.9L682.4 2011.3L682.9 2011.1L683.5 2012L684 2014.1L684.5 2016.7L685 2019.4L685.5 2021.4L685.9 2022.2L686.4 2021.3L686.9 2019L687.3 2015.7L687.7 2011.8L688.1 2007.6L688.5 2003.6L689.1 1996.3L689.7 1986.9L690.2 1977L690.8 1968L691.4 1961.5L692.2 1959L692.6 1959.4L693 1960.4L693.5 1962L693.9 1964L694.4 1966.1L694.8 1968.3L695.7 1973.5L696.5 1980L697.3 1987.4L698.1 1995.2L698.9 2003.3L699.6 2011.1L700.2 2020.3L700.7 2030.2L701.1 2040.3L701.6 2050.2L702.3 2059.3L703.3 2067.3L704.1 2072.2L705.1 2077.3L706.1 2082.1L707.2 2086.1L708.4 2088.9L709.5 2090L710.5 2089.2L711.6 2087.1L712.7 2084.1L713.8 2080.5L714.8 2076.8L715.7 2073.5L716.6 2070L717.4 2066.3L718.1 2062.6L718.7 2058.7L719.3 2054.5L720 2050L721 2042.6L721.9 2034.2L722.8 2025.2L723.7 2016.2L724.7 2007.6L725.7 1999.9L726.5 1994.7L727.3 1989.8L728.2 1985L729.1 1980.5L730.1 1976.2L731.2 1972L732.3 1968.6L733.5 1965.2L734.8 1962L736.1 1958.9L737.4 1956L738.7 1953.4L739.7 1951.8L740.7 1950.4L741.7 1949.1L742.7 1947.8L743.7 1946.3L744.5 1944.5L745.7 1940.4L746.5 1935.4L747.2 1929.8L747.7 1924L748.3 1918.2L749.1 1912.7L749.9 1907.5L750.8 1902.1L751.7 1896.7L752.6 1891.6L753.7 1887L754.8 1883.2L755.5 1881.5L756.2 1880.1L756.9 1878.8L757.7 1877.6L758.5 1876.4L759.3 1875.2L760.2 1873.8L761.2 1872.3L762.2 1870.8L763.2 1869.5L764.2 1868.6L765 1868.4L765.8 1869.1L766.4 1870.7L766.9 1872.9L767.4 1875.5L767.9 1878.3L768.4 1880.9L769.3 1885.5L770.1 1891.2L771 1897.3L771.9 1902.7L772.8 1906.7L773.6 1908.2L774.3 1907.3L775 1904.9L775.6 1901.5L776.3 1897.5L776.9 1893.6L777.5 1890L778 1886.4L778.3 1882.5L778.7 1878.6L779.1 1874.9L779.8 1871.4L780.9 1868.4L782.1 1866.4L783.5 1864.7L785 1863.1L786.7 1861.7L788.3 1860.4L790 1859.3L791.5 1858.4L793 1857.7L794.6 1857L796.1 1856.5L797.6 1856L799.1 1855.5L800.3 1855.2L801.5 1855.1L802.6 1855L803.7 1854.8L804.8 1854.6L805.9 1854.1L807.1 1853L808.3 1851.4L809.4 1849.7L810.5 1848L811.6 1846.8L812.7 1846.4L813.9 1847.1L815 1848.8L816.2 1851L817.4 1853.3L818.6 1855L820 1855.9L821.5 1855.5L823.3 1854.2L825.1 1852.4L826.8 1850.6L828.4 1849.4L829.8 1849.1L830.9 1849.9L831.7 1851.5L832.5 1853.6L833.1 1856L833.7 1858.4L834.3 1860.5L834.9 1862.5L835.3 1864.6L835.7 1866.7L836.2 1868.7L836.8 1870.5L837.7 1871.8L838.5 1872.4L839.5 1872.7L840.6 1872.9L841.6 1873.1L842.6 1873.5L843.4 1874.1L844.3 1875.4L844.9 1877L845.5 1878.8L845.9 1880.9L846.3 1883.1L846.8 1885.5L847.6 1890.9L848.4 1898L849.1 1905.6L849.8 1912.5L850.6 1917.5L851.4 1919.5L852 1918.3L852.7 1915.2L853.3 1910.9L854 1906.3L854.9 1902.1L855.9 1899.1L856.6 1898.1L857.4 1897.3L858.2 1896.6L859 1896L859.8 1895.3L860.5 1894.5L861.2 1893.5L861.7 1892.4L862.3 1891.3L862.8 1890.1L863.3 1888.9L863.9 1887.7L864.6 1885.9L865.4 1883.7L866.2 1881.4L867 1879.4L867.7 1878L868.4 1877.5L869 1878.1L869.6 1879.6L870.1 1881.8L870.6 1884.3L871.1 1886.7L871.8 1888.9L872.6 1890.9L873.6 1892.8L874.6 1894.8L875.6 1896.8L876.6 1899L877.5 1901.4L878.6 1905.6L879.7 1910.3L880.6 1915.5L881.5 1920.8L882.3 1926L883.2 1930.9L884 1935.8L884.7 1941.2L885.5 1946.6L886.2 1951.3L887 1954.6L887.7 1955.9L888.3 1955.3L888.8 1953.6L889.4 1951.2L890 1948.3L890.6 1945.3L891.1 1942.3L891.9 1937.4L892.7 1931.8L893.4 1925.7L894.1 1919.5L894.9 1913.6L895.7 1908.2L896.3 1904.2L896.8 1899.9L897.3 1895.9L897.9 1892.3L898.8 1889.5L900.2 1887.7L901.3 1887.3L902.5 1887.5L903.9 1888L905.3 1888.5L906.8 1888.9L908.2 1888.9L910.1 1888.1L912.1 1886.6L914.2 1884.9L916.2 1883.3L918 1882.2L919.5 1882L920.6 1882.8L921.4 1884.3L922.1 1886.2L922.8 1888.3L923.4 1890.4L924.1 1892.3L924.8 1894L925.5 1896L926.2 1897.9L926.9 1899.6L927.7 1900.8L928.6 1901.4L929.6 1901.3L930.8 1900.7L932 1899.7L933.3 1898.5L934.5 1897.1L935.5 1895.7L936.7 1893.6L937.7 1891.1L938.7 1888.4L939.5 1885.5L940.3 1882.6L941.1 1879.8L942 1876.7L942.8 1873.4L943.7 1870L944.4 1866.8L945.1 1864L945.7 1861.6L946 1860.7L946.2 1859.8L946.4 1859.1L946.6 1858.4L946.8 1857.7L947 1857" fill="none" stroke="#007800" stroke-width="4.1" stroke-linejoin="round" stroke-linecap="round" />
<path d="M701.5 1617.6 L701.5 1624.2 L731.5 1624.2 L731.5 1617.6 M716.3 1624.2 L716.3 1643.6" fill="none" stroke="#111" stroke-width="2"/>
<line x1="372" y1="1366.6" x2="419" y2="1366.6" stroke="#000" stroke-width="4.8"/>
<path d="M359.1 1366.9 L380.6 1355.3 L374.4 1366.9 L381.8 1378.5 Z" fill="#000" stroke="#000" stroke-width="1" stroke-linejoin="miter"/>
<rect x="192.3" y="1161.8" width="152.1" height="43.5" fill="#fff" stroke="#1a1a1a" stroke-width="1.6"/>
<text x="201" y="1194.2" font-size="28.75" fill="#0000ff" font-weight="bold" textLength="135.92" lengthAdjust="spacingAndGlyphs">3000-3600</text>
<rect x="624.1" y="1128.9" width="74.6" height="42.7" fill="#fff" stroke="#1a1a1a" stroke-width="1.6"/>
<text x="632.2" y="1160.5" font-size="27.26" fill="#0000ff" font-weight="bold" textLength="58.78" lengthAdjust="spacingAndGlyphs">1498</text>
<rect x="702.3" y="1129.1" width="73.9" height="42.5" fill="#fff" stroke="#1a1a1a" stroke-width="1.6"/>
<text x="710" y="1160.3" font-size="26.92" fill="#0000ff" font-weight="bold" textLength="59.03" lengthAdjust="spacingAndGlyphs">1412</text>
<rect x="512.8" y="1313" width="74" height="42.5" fill="#fff" stroke="#1a1a1a" stroke-width="1.6"/>
<text x="520.2" y="1343.8" font-size="26.64" fill="#0000ff" font-weight="bold" textLength="59.24" lengthAdjust="spacingAndGlyphs">1712</text>
<rect x="548.1" y="1397.3" width="74" height="41.2" fill="#fff" stroke="#1a1a1a" stroke-width="1.6"/>
<text x="555.8" y="1427.6" font-size="27.26" fill="#0000ff" font-weight="bold" textLength="59.11" lengthAdjust="spacingAndGlyphs">1585</text>
<rect x="760.9" y="1273.6" width="78.1" height="44.9" fill="#fff" stroke="#1a1a1a" stroke-width="1.6"/>
<text x="768.1" y="1306.7" font-size="29.93" fill="#0000ff" font-weight="bold" textLength="62.83" lengthAdjust="spacingAndGlyphs">1124</text>
<rect x="806" y="1332.5" width="62.9" height="43.3" fill="#fff" stroke="#1a1a1a" stroke-width="1.6"/>
<text x="813.8" y="1364.3" font-size="28.67" fill="#0000ff" font-weight="bold" textLength="47.23" lengthAdjust="spacingAndGlyphs">802</text>
<rect x="878.2" y="1333.1" width="61.5" height="43.8" fill="#fff" stroke="#1a1a1a" stroke-width="1.6"/>
<text x="884.9" y="1364.6" font-size="28.53" fill="#0000ff" font-weight="bold" textLength="47.81" lengthAdjust="spacingAndGlyphs">788</text>
<rect x="612.1" y="1525.7" width="78.7" height="43.5" fill="#fff" stroke="#1a1a1a" stroke-width="1.6"/>
<text x="619.5" y="1557.5" font-size="29.74" fill="#0000ff" font-weight="bold" textLength="63.18" lengthAdjust="spacingAndGlyphs">1631</text>
<rect x="536.1" y="1577.4" width="151.7" height="43.3" fill="#fff" stroke="#1a1a1a" stroke-width="1.6"/>
<text x="543.7" y="1609.3" font-size="28.47" fill="#0000ff" font-weight="bold" textLength="135.30" lengthAdjust="spacingAndGlyphs">1377-1383</text>
<rect x="860" y="1598.9" width="63.7" height="43.9" fill="#fff" stroke="#1a1a1a" stroke-width="1.6"/>
<text x="869" y="1631.7" font-size="29.46" fill="#0000ff" font-weight="bold" textLength="46.11" lengthAdjust="spacingAndGlyphs">633</text>
<rect x="535.9" y="1713.2" width="74.2" height="41.2" fill="#fff" stroke="#1a1a1a" stroke-width="1.6"/>
<text x="543.4" y="1743.6" font-size="27.40" fill="#0000ff" font-weight="bold" textLength="57.86" lengthAdjust="spacingAndGlyphs">1491</text>
<rect x="511.3" y="1764.3" width="74.5" height="41.6" fill="#fff" stroke="#1a1a1a" stroke-width="1.6"/>
<text x="519.2" y="1795.6" font-size="27.54" fill="#0000ff" font-weight="bold" textLength="59.03" lengthAdjust="spacingAndGlyphs">1572</text>
<rect x="640.9" y="1895.9" width="74.2" height="41.2" fill="#fff" stroke="#1a1a1a" stroke-width="1.6"/>
<text x="648.6" y="1925.8" font-size="27.40" fill="#0000ff" font-weight="bold" textLength="59.45" lengthAdjust="spacingAndGlyphs">1496</text>
<rect x="759.5" y="1945.1" width="78" height="43.7" fill="#fff" stroke="#1a1a1a" stroke-width="1.6"/>
<text x="766.8" y="1977.5" font-size="28.75" fill="#0000ff" font-weight="bold" textLength="64.10" lengthAdjust="spacingAndGlyphs">1130</text>
<rect x="496.4" y="2001.8" width="74.4" height="43.1" fill="#fff" stroke="#1a1a1a" stroke-width="1.6"/>
<text x="504.1" y="2033.3" font-size="27.54" fill="#0000ff" font-weight="bold" textLength="59.27" lengthAdjust="spacingAndGlyphs">1710</text>
<rect x="804.8" y="2006.3" width="62.8" height="45.1" fill="#fff" stroke="#1a1a1a" stroke-width="1.6"/>
<text x="812.4" y="2038.9" font-size="28.39" fill="#0000ff" font-weight="bold" textLength="47.58" lengthAdjust="spacingAndGlyphs">808</text>
<rect x="537.1" y="2079.5" width="74.1" height="42.9" fill="#fff" stroke="#1a1a1a" stroke-width="1.6"/>
<text x="544.3" y="2110.5" font-size="26.22" fill="#0000ff" font-weight="bold" textLength="58.72" lengthAdjust="spacingAndGlyphs">1583</text>
<rect x="763.4" y="2068.4" width="74.3" height="41.8" fill="#fff" stroke="#1a1a1a" stroke-width="1.6"/>
<text x="771" y="2099.1" font-size="27.06" fill="#0000ff" font-weight="bold" textLength="59.03" lengthAdjust="spacingAndGlyphs">1396</text>
<rect x="860.1" y="2066.2" width="63.7" height="43.6" fill="#fff" stroke="#1a1a1a" stroke-width="1.6"/>
<text x="868.3" y="2099.1" font-size="30.02" fill="#0000ff" font-weight="bold" textLength="47.26" lengthAdjust="spacingAndGlyphs">633</text>
<text x="194.3" y="1287.8" font-size="32.12" fill="#0000ff" font-weight="bold" textLength="106.83" lengthAdjust="spacingAndGlyphs">–COOH</text>
<text x="517.4" y="1387.9" font-size="32.41" fill="#0000ff" font-weight="bold" textLength="79.99" lengthAdjust="spacingAndGlyphs">–C=O</text>
<text x="187.5" y="1535.1" font-size="32.99" fill="#ff0000" font-weight="bold" textLength="64.67" lengthAdjust="spacingAndGlyphs">–OH</text>
<text x="313" y="1530.9" font-size="32.56" fill="#ff0000" font-weight="bold" textLength="58.98" lengthAdjust="spacingAndGlyphs">–CH</text>
<text x="734.2" y="1560.9" font-size="30.81" fill="#ff0000" font-weight="bold" textLength="71.70" lengthAdjust="spacingAndGlyphs">M–O</text>
<text x="734.1" y="1594.6" font-size="31.54" fill="#ff0000" font-weight="bold" textLength="120.64" lengthAdjust="spacingAndGlyphs">M–O–M</text>
<text x="738.4" y="1624.3" font-size="31.25" fill="#ff0000" font-weight="bold" textLength="114.52" lengthAdjust="spacingAndGlyphs">O–M–O</text>
<text x="185" y="1721.7" font-size="31.25" fill="#800080" font-weight="bold" textLength="65.51" lengthAdjust="spacingAndGlyphs">–OH</text>
<text x="187.8" y="1763.4" font-size="31.83" fill="#800080" font-weight="bold" textLength="106.83" lengthAdjust="spacingAndGlyphs">–COOH</text>
<text x="187.4" y="1928.8" font-size="31.40" fill="#008000" font-weight="bold" textLength="65.09" lengthAdjust="spacingAndGlyphs">–OH</text>
<text x="187.5" y="1968.8" font-size="32.41" fill="#008000" font-weight="bold" textLength="107.14" lengthAdjust="spacingAndGlyphs">–COOH</text>
<text x="92.8" y="1220.3" font-size="40.66" fill="#000" font-weight="bold" textLength="48.99" lengthAdjust="spacingAndGlyphs">(a)</text>
<text x="91.3" y="1497.9" font-size="41.63" fill="#000" font-weight="bold" textLength="50.43" lengthAdjust="spacingAndGlyphs">(b)</text>
<text x="95.5" y="1707.4" font-size="42.16" fill="#000" font-weight="bold" textLength="44.53" lengthAdjust="spacingAndGlyphs">(c)</text>
<text x="92.8" y="1904.8" font-size="41.95" fill="#000" font-weight="bold" textLength="50.43" lengthAdjust="spacingAndGlyphs">(d)</text>
<rect x="83.7" y="1121.3" width="865.5999999999999" height="1012.3999999999999" fill="none" stroke="#000" stroke-width="5.6" stroke-linejoin="round"/>
<line x1="83.5" y1="2133.7" x2="83.5" y2="2150.7" stroke="#000" stroke-width="5.5" stroke-linecap="round"/>
<line x1="143.6" y1="2133.7" x2="143.6" y2="2142.7" stroke="#000" stroke-width="5.5" stroke-linecap="round"/>
<line x1="203.8" y1="2133.7" x2="203.8" y2="2150.7" stroke="#000" stroke-width="5.5" stroke-linecap="round"/>
<line x1="263.9" y1="2133.7" x2="263.9" y2="2142.7" stroke="#000" stroke-width="5.5" stroke-linecap="round"/>
<line x1="324.1" y1="2133.7" x2="324.1" y2="2150.7" stroke="#000" stroke-width="5.5" stroke-linecap="round"/>
<line x1="384.2" y1="2133.7" x2="384.2" y2="2142.7" stroke="#000" stroke-width="5.5" stroke-linecap="round"/>
<line x1="444.4" y1="2133.7" x2="444.4" y2="2150.7" stroke="#000" stroke-width="5.5" stroke-linecap="round"/>
<line x1="504.5" y1="2133.7" x2="504.5" y2="2142.7" stroke="#000" stroke-width="5.5" stroke-linecap="round"/>
<line x1="564.6" y1="2133.7" x2="564.6" y2="2150.7" stroke="#000" stroke-width="5.5" stroke-linecap="round"/>
<line x1="624.8" y1="2133.7" x2="624.8" y2="2142.7" stroke="#000" stroke-width="5.5" stroke-linecap="round"/>
<line x1="684.9" y1="2133.7" x2="684.9" y2="2150.7" stroke="#000" stroke-width="5.5" stroke-linecap="round"/>
<line x1="745.1" y1="2133.7" x2="745.1" y2="2142.7" stroke="#000" stroke-width="5.5" stroke-linecap="round"/>
<line x1="805.2" y1="2133.7" x2="805.2" y2="2150.7" stroke="#000" stroke-width="5.5" stroke-linecap="round"/>
<line x1="865.4" y1="2133.7" x2="865.4" y2="2142.7" stroke="#000" stroke-width="5.5" stroke-linecap="round"/>
<line x1="925.5" y1="2133.7" x2="925.5" y2="2150.7" stroke="#000" stroke-width="5.5" stroke-linecap="round"/>
<text x="38.6" y="2195.1" font-size="41.81" fill="#000" font-weight="bold" textLength="90.89" lengthAdjust="spacingAndGlyphs">4000</text>
<text x="158.7" y="2195.1" font-size="41.81" fill="#000" font-weight="bold" textLength="90.89" lengthAdjust="spacingAndGlyphs">3500</text>
<text x="279" y="2195.1" font-size="41.81" fill="#000" font-weight="bold" textLength="90.89" lengthAdjust="spacingAndGlyphs">3000</text>
<text x="399" y="2195.1" font-size="41.81" fill="#000" font-weight="bold" textLength="90.89" lengthAdjust="spacingAndGlyphs">2500</text>
<text x="519.3" y="2195.1" font-size="41.81" fill="#000" font-weight="bold" textLength="90.89" lengthAdjust="spacingAndGlyphs">2000</text>
<text x="639" y="2195.1" font-size="41.81" fill="#000" font-weight="bold" textLength="90.89" lengthAdjust="spacingAndGlyphs">1500</text>
<text x="759.3" y="2195.1" font-size="41.81" fill="#000" font-weight="bold" textLength="90.89" lengthAdjust="spacingAndGlyphs">1000</text>
<text x="891.6" y="2195.1" font-size="41.81" fill="#000" font-weight="bold" textLength="68.17" lengthAdjust="spacingAndGlyphs">500</text>
<text x="315.3" y="2271.8" font-size="45.79" fill="#000" font-weight="bold" textLength="360.63" lengthAdjust="spacingAndGlyphs">Wavenumber (cm</text>
<text x="675.5" y="2246.5" font-size="27.33" fill="#000" font-weight="bold" textLength="26.06" lengthAdjust="spacingAndGlyphs">-1</text>
<text x="704.1" y="2270.1" font-size="44.63" fill="#000" font-weight="bold" textLength="12.63" lengthAdjust="spacingAndGlyphs">)</text>
<text transform="translate(46.8,0) rotate(-90)" x="-1833.8" y="0" font-size="43.17" font-weight="bold" fill="#000" textLength="365.98" lengthAdjust="spacingAndGlyphs">Transmittance (%)</text>
</svg></body></html>
